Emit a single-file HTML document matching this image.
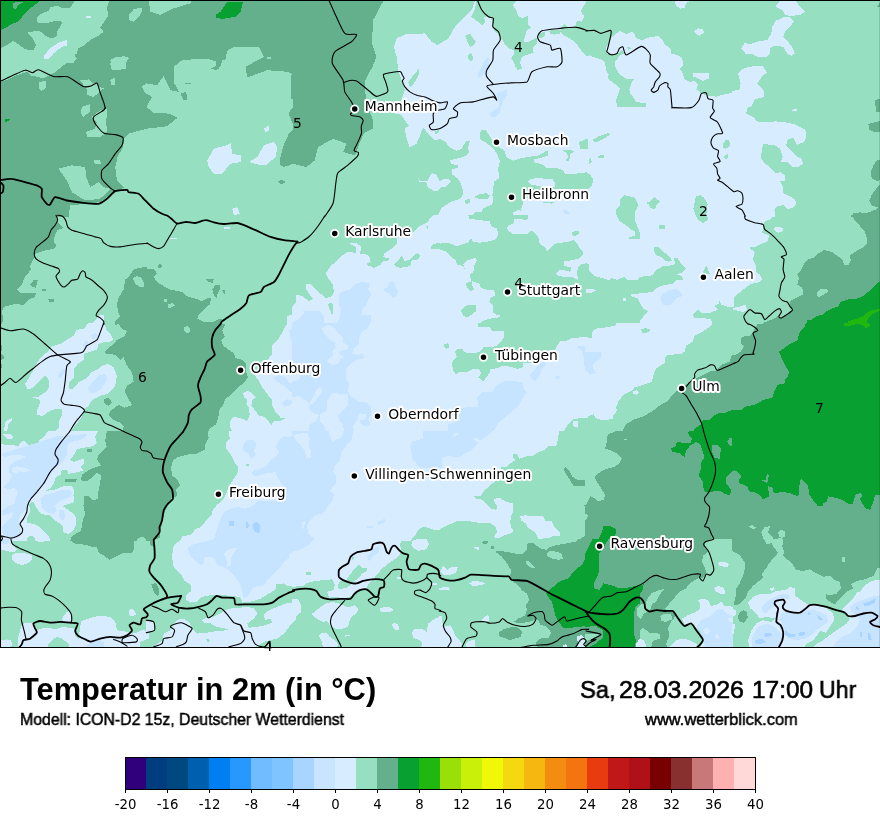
<!DOCTYPE html>
<html lang="de"><head><meta charset="utf-8"><title>Temperatur in 2m</title>
<style>
html,body{margin:0;padding:0;background:#fff;}
body{width:880px;height:830px;position:relative;overflow:hidden;font-family:"Liberation Sans",sans-serif;color:#000;}
#map{position:absolute;left:0;top:0;width:880px;height:648px;display:block;will-change:transform;overflow:visible;}
.t{position:absolute;white-space:nowrap;line-height:1;transform-origin:0 0;will-change:transform;}
#title{left:19.9px;top:673.9px;font-size:30.6px;font-weight:bold;transform:scaleX(1.008);}
#sub{left:20.4px;top:711.1px;font-size:16.4px;-webkit-text-stroke:0.5px #000;transform:scaleX(0.965);}
.dt{top:677.9px;font-size:24.4px;-webkit-text-stroke:0.6px #000;}
#url{left:645.4px;top:711px;font-size:16.5px;-webkit-text-stroke:0.5px #000;transform:scaleX(0.998);}
#leg{position:absolute;left:0;top:740px;width:880px;height:90px;display:block;will-change:transform;}
svg text{font-family:"DejaVu Sans","Liberation Sans",sans-serif;}
.city{font-size:13.88px;fill:#000;stroke:#fff;stroke-width:3.8px;paint-order:stroke fill;stroke-linejoin:round;}
.num{font-size:13.89px;fill:#000;text-anchor:middle;}
.lt{font-size:13.3px;fill:#000;text-anchor:middle;}
</style></head><body>

<svg id="map" width="880" height="648" viewBox="0 0 880 648" shape-rendering="crispEdges">
<defs><clipPath id="mc"><rect x="0" y="0" width="880" height="648"/></clipPath></defs>
<g clip-path="url(#mc)">
<rect x="0" y="0" width="880" height="648" fill="#96dfc0"/>
<polygon fill="#64b08c" points="0.0,0.0 294.7,0.0 294.7,75.2 287.3,71.8 267.3,70.2 247.2,77.5 245.6,66.8 263.9,56.8 258.9,46.8 233.9,46.8 227.2,50.8 225.5,59.5 213.8,60.8 207.2,58.5 182.1,60.1 173.7,66.8 173.7,81.9 178.8,91.9 170.4,90.2 163.7,76.2 157.0,85.2 147.0,83.5 143.7,91.9 152.0,96.9 146.3,106.9 153.7,112.9 168.7,113.6 177.7,117.6 167.1,126.3 147.0,128.6 128.6,133.6 124.3,138.7 123.0,147.0 117.6,157.0 115.3,167.1 116.9,180.4 124.3,187.8 115.3,191.1 100.2,202.1 70.2,205.5 68.5,217.2 0.0,217.2"/>
<polygon fill="#64b08c" points="295.7,107.2 291.5,108.8 288.7,113.0 290.3,118.0 292.7,123.0 295.7,124.7"/>
<polygon fill="#64b08c" points="295.7,127.7 291.5,130.6 288.7,133.9 286.5,138.9 284.0,143.9 282.0,151.4 280.3,158.1 279.8,164.8 283.2,166.8 289.0,165.6 295.7,162.3"/>
<polygon fill="#64b08c" points="277.3,181.1 282.3,179.8 285.7,182.1 281.3,184.4"/>
<polygon fill="#96dfc0" points="0.0,48.4 6.7,45.1 13.4,40.9 18.4,44.3 25.1,49.3 33.4,50.1 35.9,45.1 33.4,39.3 27.6,32.6 35.9,30.9 41.8,31.7 45.1,35.9 51.8,38.4 56.8,35.9 57.6,30.9 61.0,25.1 62.6,21.7 55.1,20.9 45.1,23.4 37.6,22.6 36.8,17.5 41.8,13.4 48.4,10.9 50.1,7.5 56.8,5.8 63.5,8.4 70.2,7.5 74.3,1.7 75.2,0.0 109.4,0.0 106.9,8.4 108.6,15.0 104.4,21.7 100.2,27.6 103.6,31.7 98.6,35.9 90.2,40.1 83.5,45.9 78.5,48.4 76.8,53.5 74.3,55.1 76.8,58.5 73.5,62.6 66.0,63.5 58.5,69.3 53.5,73.5 43.4,78.5 38.4,76.8 31.7,76.0 26.7,71.8 16.7,75.2 6.7,80.2 0.0,81.9"/>
<polygon fill="#d8ecff" points="44.3,55.1 50.1,48.4 58.5,42.6 66.8,40.1 66.8,45.9 61.8,46.8 53.5,53.5 48.4,59.3 44.3,58.5"/>
<polygon fill="#d8ecff" points="86.0,15.9 91.0,16.2 91.0,18.4 86.0,18.4"/>
<polygon fill="#96dfc0" points="110.3,63.5 113.6,58.5 123.6,56.0 128.6,58.5 125.3,62.6 126.1,68.5 116.9,70.2 111.1,69.3"/>
<polygon fill="#96dfc0" points="39.3,82.7 45.9,81.0 45.9,86.9 42.6,90.2 39.3,88.5"/>
<polygon fill="#96dfc0" points="81.9,80.2 88.5,79.4 93.6,83.5 86.9,86.9 83.5,86.0"/>
<polygon fill="#96dfc0" points="86.9,88.5 96.9,86.0 103.6,88.5 100.2,91.0 93.6,91.9 91.0,96.1 86.9,93.6"/>
<polygon fill="#96dfc0" points="110.3,80.2 114.4,77.7 115.3,83.5 111.1,85.2"/>
<polygon fill="#96dfc0" points="129.5,15.0 133.6,10.0 140.3,7.5 142.0,11.7 137.0,16.7 132.0,21.7 129.5,20.0"/>
<polygon fill="#96dfc0" points="142.0,86.9 147.3,81.9 147.3,90.2 143.7,90.2"/>
<polygon fill="#08a030" points="0.0,30.9 10.0,25.1 19.2,20.9 23.4,15.0 30.1,8.4 40.1,0.8 40.1,0.0 0.0,0.0"/>
<polygon fill="#64b08c" points="12.5,3.3 18.4,1.7 25.1,1.7 18.4,5.0 15.9,9.2 13.4,8.4"/>
<polygon fill="#96dfc0" points="148.7,0.0 150.4,11.7 160.4,15.0 173.7,8.4 190.4,3.3 192.1,0.0"/>
<polygon fill="#96dfc0" points="128.6,15.0 133.6,9.4 142.0,7.4 140.3,15.0 133.6,21.7 128.6,20.0"/>
<polygon fill="#08a030" points="215.5,15.0 220.5,11.7 227.2,1.7 243.2,1.7 240.6,11.7 235.5,16.7 222.2,19.0 215.5,17.4"/>
<polygon fill="#96dfc0" points="110.3,60.1 116.9,56.8 128.6,56.8 125.3,65.2 120.3,70.2 111.9,69.5"/>
<polygon fill="#96dfc0" points="110.3,80.2 114.3,78.5 115.3,85.2 111.3,85.2"/>
<polygon fill="#96dfc0" points="80.2,80.2 96.9,83.5 100.2,91.9 93.6,96.9 87.5,95.2 86.2,87.5"/>
<polygon fill="#96dfc0" points="81.9,106.9 90.2,104.2 89.5,111.9 83.5,116.9 80.9,113.6"/>
<polygon fill="#96dfc0" points="91.9,116.9 100.2,110.3 107.6,108.6 106.2,120.3 106.9,132.0 100.2,137.0 86.9,137.0 86.2,132.0 95.2,128.6 96.9,122.0"/>
<polygon fill="#96dfc0" points="39.4,81.9 45.1,80.9 46.1,87.5 41.8,90.9 38.8,88.5"/>
<polygon fill="#96dfc0" points="58.5,168.7 71.8,165.4 85.2,167.1 86.2,177.1 90.2,187.1 98.6,182.1 103.6,187.1 110.3,188.8 100.2,198.8 85.2,200.5 71.8,192.1 66.8,180.4"/>
<polygon fill="#96dfc0" points="93.6,160.4 100.2,159.7 100.9,164.4 95.2,164.4"/>
<polygon fill="#08a030" points="5.0,119.6 10.0,118.6 9.4,120.9 5.3,122.0"/>
<polygon fill="#d8ecff" points="207.2,160.4 213.8,148.7 227.2,145.3 230.5,143.0 232.2,153.7 240.6,155.4 240.6,162.0 230.5,163.7 222.2,173.7 213.8,173.7 208.8,167.1"/>
<polygon fill="#d8ecff" points="248.9,162.0 257.3,157.0 263.9,145.3 274.0,142.0 277.3,147.0 275.6,157.0 265.6,165.4 257.3,164.4"/>
<polygon fill="#d8ecff" points="263.9,128.6 269.0,125.3 269.0,130.3 265.6,132.0"/>
<polygon fill="#d8ecff" points="232.2,208.8 237.2,207.2 239.9,213.8 233.9,215.5"/>
<polygon fill="#64b08c" points="293.0,0.0 383.9,0.0 373.2,20.0 371.9,43.4 376.5,56.8 372.5,66.8 365.2,80.2 365.2,92.2 367.2,105.2 372.5,118.6 373.2,128.6 363.8,133.0 359.2,144.3 354.8,155.4 343.1,152.0 346.5,143.7 333.1,138.7 318.1,147.0 314.7,160.4 306.4,167.1 293.0,163.7"/>
<polygon fill="#d8ecff" points="475.1,0.0 471.8,10.0 465.1,16.7 455.0,26.7 448.4,38.4 437.3,45.1 431.7,41.8 425.0,33.4 404.9,34.4 396.6,38.4 393.9,46.8 396.6,56.8 398.2,70.2 401.6,80.2 404.9,90.2 401.6,100.2 393.2,107.6 393.2,112.9 393.0,113.0 401.4,114.7 404.7,120.5 408.9,125.5 404.7,128.9 406.4,138.1 409.7,147.3 416.4,143.9 419.7,136.4 423.1,127.2 428.9,134.7 434.8,140.6 439.8,138.9 444.8,141.4 449.8,147.3 456.5,150.6 461.5,148.9 465.7,141.4 469.8,140.6 468.2,147.3 469.0,153.1 464.8,156.4 454.8,159.0 449.8,160.6 451.5,164.0 458.2,165.6 457.3,168.1 452.3,169.0 451.5,174.0 457.3,178.2 460.7,183.2 463.2,190.7 462.3,196.5 459.0,199.0 449.8,202.4 441.4,208.2 436.4,217.4 820.0,217.5 820.0,107.0 586.3,107.0 586.3,0.0"/>
<polygon fill="#d8ecff" points="418.1,177.3 418.9,181.5 426.4,182.3 428.1,187.4 434.8,191.5 438.9,190.2 441.4,187.4 446.5,186.5 450.6,181.5 448.1,179.0 443.1,179.5 439.8,181.2 436.4,174.8 432.3,173.2 429.4,176.8 427.2,181.2 419.7,180.7"/>
<polygon fill="#96dfc0" points="475.9,-0.8 518.5,-0.8 512.7,5.0 516.0,10.0 518.5,15.9 521.9,18.4 527.7,15.9 528.5,25.1 531.0,27.6 526.9,30.1 525.2,35.9 523.5,41.8 528.5,41.8 533.6,39.3 536.9,37.6 536.9,43.4 532.7,47.6 533.6,52.6 528.5,54.3 521.9,56.8 520.2,62.6 521.9,68.5 517.7,70.2 515.2,66.0 513.5,61.8 511.0,58.5 514.3,53.5 513.5,50.1 508.5,48.4 504.3,44.3 502.6,40.1 497.6,33.4 494.3,30.9 493.5,26.7 491.8,20.0 488.4,15.9 484.3,17.5 485.1,22.6 481.8,25.1 475.9,20.0 470.9,16.7 473.4,12.5 475.1,9.2 475.9,3.3"/>
<polygon fill="#96dfc0" points="408.3,81.9 413.3,75.2 419.3,68.5 419.3,73.5 415.0,81.9 409.9,87.5"/>
<polygon fill="#96dfc0" points="465.1,35.9 470.1,33.4 472.6,37.6 475.9,41.8 473.4,45.1 470.1,46.8 467.6,41.8"/>
<polygon fill="#96dfc0" points="468.4,55.1 470.9,52.6 473.4,58.5 471.7,61.5 468.4,59.3"/>
<polygon fill="#96dfc0" points="578.7,142.0 587.7,138.7 587.7,148.7 580.3,148.7"/>
<polygon fill="#96dfc0" points="480.7,130.6 485.7,129.7 489.9,136.4 493.2,141.4 499.9,147.3 504.9,151.4 506.6,157.3 513.3,160.6 521.6,158.1 531.7,156.4 528.4,156.4 535.9,156.4 541.7,153.9 546.7,150.6 548.4,152.3 547.6,155.6 540.0,158.1 535.0,159.8 534.2,162.3 541.7,164.0 546.7,168.1 557.6,168.5 562.6,169.8 565.1,174.0 570.1,174.0 576.8,173.5 586.8,172.3 590.2,174.8 593.5,179.8 591.8,185.7 588.5,189.0 555.9,189.4 536.7,191.5 523.3,201.6 522.5,204.9 520.0,211.6 522.5,208.2 513.3,212.4 513.3,217.4 469.8,217.4 476.5,211.6 481.5,212.4 483.2,208.2 491.6,204.9 493.2,201.6 492.4,194.9 493.2,188.2 494.1,181.5 499.1,178.2 498.2,168.1 499.9,161.5 497.4,154.8 493.2,148.1 486.6,143.1 479.9,138.9"/>
<polygon fill="#d8ecff" points="527.5,181.5 530.0,179.0 536.7,178.2 552.6,179.0 555.1,183.2 555.1,186.5 541.7,186.5 531.7,184.8"/>
<polygon fill="#d8ecff" points="534.2,159.0 540.3,158.1 543.4,163.1 535.0,163.1"/>
<polygon fill="#96dfc0" points="542.6,201.6 555.9,201.6 551.7,203.6 543.4,202.9"/>
<polygon fill="#96dfc0" points="474.9,196.5 479.9,194.0 486.6,193.2 489.9,195.7 488.2,199.0 481.5,199.0 475.7,198.2"/>
<polygon fill="#96dfc0" points="465.2,199.9 469.8,199.0 469.8,203.2 465.7,204.1"/>
<polygon fill="#96dfc0" points="434.8,131.4 439.8,129.7 438.1,133.1 435.6,134.4"/>
<polygon fill="#c6e3ff" points="489.9,113.0 493.2,110.5 497.4,108.0 500.8,108.0 499.9,112.2 494.9,117.2 490.7,116.4"/>
<polygon fill="#c6e3ff" points="477.6,73.5 480.9,68.5 484.3,61.8 486.8,57.6 490.1,57.6 488.4,65.2 485.1,71.8 480.1,77.7 477.6,76.0"/>
<polygon fill="#c6e3ff" points="496.8,93.6 502.6,91.0 506.8,89.4 506.8,95.2 503.5,100.2 502.6,105.2 499.3,107.8 498.5,100.2"/>
<polygon fill="#96dfc0" points="579.3,144.8 582.6,141.4 587.7,138.9 587.7,143.9 586.0,147.3 581.0,148.1"/>
<polygon fill="#96dfc0" points="592.7,139.7 598.5,136.4 608.5,133.1 610.2,134.7 603.5,138.9 598.5,141.4 594.3,142.2"/>
<polygon fill="#96dfc0" points="562.6,150.6 570.1,149.8 573.8,151.4 570.1,154.8 569.3,160.6 565.1,161.5 568.4,156.4 566.8,153.1"/>
<polygon fill="#96dfc0" points="597.7,155.6 604.4,155.3 604.4,157.6 598.5,157.6"/>
<polygon fill="#96dfc0" points="588.5,159.8 591.0,158.1 591.8,162.3 589.3,164.0"/>
<polygon fill="#96dfc0" points="620.2,199.0 624.4,195.2 634.4,197.4 638.6,204.9 635.3,211.6 634.4,217.4 615.2,217.4 616.1,209.9 620.2,204.9"/>
<polygon fill="#96dfc0" points="645.3,202.9 650.3,201.6 654.5,197.4 660.3,201.6 656.2,204.9 655.3,209.1 650.3,208.2 648.6,204.1"/>
<polygon fill="#c6e3ff" points="563.4,209.9 567.6,210.7 570.1,213.6 563.8,213.6"/>
<polygon fill="#d8ecff" points="586.0,53.5 592.7,56.8 602.7,60.1 605.2,62.6 606.0,70.2 608.6,74.3 607.7,78.5 614.4,83.5 620.2,88.5 617.7,95.2 616.1,100.2 616.9,105.2 616.9,109.4 585.2,109.4 585.2,53.5"/>
<polygon fill="#d8ecff" points="606.0,48.4 611.1,38.4 615.2,34.2 620.2,30.9 626.1,34.2 631.9,31.7 634.4,33.4 636.1,38.4 642.8,40.1 648.6,37.6 657.8,35.9 662.0,39.3 664.5,44.3 670.4,48.4 671.2,53.5 679.6,56.0 682.9,60.1 682.9,66.0 679.6,68.5 682.9,73.5 684.6,79.4 690.4,81.9 694.6,81.0 697.9,84.4 696.3,89.4 701.3,93.6 709.6,96.1 716.3,96.6 724.7,94.4 733.3,92.7 733.3,109.4 646.1,109.4 646.1,103.6 636.1,101.9 633.6,97.7 630.3,93.6 629.4,89.4 631.1,83.5 634.4,78.5 626.1,78.5 621.9,76.0 617.7,71.8 615.2,66.0 615.2,61.8 619.4,56.0 624.4,53.5 621.9,50.1 616.1,54.3 607.7,54.3"/>
<polygon fill="#d8ecff" points="674.5,0.8 689.6,0.8 686.2,3.3 684.6,7.5 680.4,8.7 676.2,5.8"/>
<polygon fill="#d8ecff" points="693.8,31.7 697.9,28.4 702.9,29.2 703.8,32.6 699.6,35.9 696.3,34.2"/>
<polygon fill="#d8ecff" points="692.9,72.7 708.8,72.7 708.8,78.5 702.9,81.0 696.3,77.7 692.9,76.8"/>
<polygon fill="#96dfc0" points="626.9,47.6 629.4,46.4 630.8,48.4 628.6,49.8"/>
<polygon fill="#d8ecff" points="779.8,0.8 795.6,0.8 799.8,6.7 804.8,11.7 799.8,15.0 790.6,15.9 784.8,15.0 782.3,10.0 775.6,6.7"/>
<polygon fill="#d8ecff" points="784.8,16.7 789.8,17.5 794.0,21.7 789.8,26.7 784.8,31.7 783.1,36.8 788.1,41.8 793.1,48.4 794.8,53.5 791.5,56.0 787.3,53.5 783.1,46.8 777.3,45.9 770.6,46.8 769.8,53.5 766.4,56.8 758.1,56.8 753.0,54.3 745.5,53.5 741.4,48.4 744.7,42.6 749.7,44.3 758.1,41.4 767.2,40.1 771.4,33.4 772.3,26.7 775.6,20.9"/>
<polygon fill="#d8ecff" points="732.2,91.0 739.7,89.4 740.5,83.5 738.0,73.5 742.2,69.3 748.9,66.8 762.2,65.5 767.2,72.7 762.2,76.0 757.2,83.5 763.9,91.0 763.9,96.9 754.7,99.4 749.7,109.4 732.2,109.4"/>
<polygon fill="#64b08c" points="876.7,6.7 880.3,2.5 880.3,6.7"/>
<polygon fill="#64b08c" points="875.8,100.2 880.3,100.2 880.3,109.4 875.8,109.4"/>
<polygon fill="#96dfc0" points="747.7,107.2 746.0,113.8 753.6,117.2 756.9,121.4 766.9,122.2 775.3,121.4 784.5,122.2 793.6,123.9 800.3,127.2 805.3,129.7 806.2,137.2 803.7,142.2 797.0,144.8 793.6,138.1 787.8,138.9 786.1,145.6 792.0,151.4 797.0,156.4 802.0,159.0 802.8,164.0 798.7,166.5 792.0,166.5 787.8,162.3 781.1,161.5 782.8,156.4 780.3,148.9 775.3,145.6 763.6,143.9 761.9,148.1 761.1,158.1 764.4,163.1 770.3,167.3 775.3,173.2 780.3,172.3 784.5,174.8 784.5,180.7 780.3,181.5 782.8,186.5 782.8,193.2 790.3,196.5 795.3,199.9 796.2,204.1 792.0,208.2 787.0,209.1 783.6,204.9 776.9,206.6 774.4,209.9 775.3,217.4 825.4,217.4 825.4,107.2"/>
<polygon fill="#96dfc0" points="722.6,143.9 726.0,139.7 729.3,139.7 729.8,145.6 726.0,148.9 723.1,148.1"/>
<polygon fill="#96dfc0" points="724.3,155.6 727.7,154.4 728.8,157.3 726.0,159.0 724.0,157.8"/>
<polygon fill="#96dfc0" points="693.4,208.2 695.9,196.5 700.1,194.9 703.8,197.4 707.6,204.1 705.9,217.4 695.9,217.4"/>
<polygon fill="#d8ecff" points="792.0,109.7 797.0,108.8 797.0,110.5 792.8,111.0"/>
<polygon fill="#64b08c" points="875.0,100.2 880.7,98.6 880.7,111.9 876.0,111.9"/>
<polygon fill="#64b08c" points="868.3,123.9 875.0,122.2 881.7,120.5 881.7,132.2 875.0,132.2 869.2,129.7"/>
<polygon fill="#64b08c" points="881.7,159.0 876.7,160.6 873.3,165.6 870.8,172.3 871.7,178.2 876.7,180.7 881.7,180.2"/>
<polygon fill="#64b08c" points="881.7,183.2 876.7,188.2 871.7,194.9 869.2,200.7 871.7,205.7 878.3,207.4 875.0,209.9 866.6,213.2 860.0,212.4 853.3,213.2 850.8,217.4 881.7,217.4"/>
<polygon fill="#64b08c" points="0.0,215.2 56.0,215.2 56.8,221.0 59.3,223.5 63.5,227.7 57.6,230.2 55.1,234.4 53.5,242.7 56.8,245.2 53.5,248.6 42.6,251.1 35.9,253.6 33.4,259.4 30.1,266.1 30.9,269.5 25.1,277.0 21.7,284.5 17.5,289.5 20.0,292.8 35.9,293.2 35.1,297.0 30.1,298.7 23.4,305.4 16.7,303.7 10.0,305.4 5.0,306.2 1.7,311.2 3.3,319.6 1.7,324.1 0.0,324.1"/>
<polygon fill="#64b08c" points="30.1,284.5 34.2,279.5 37.6,280.3 35.9,287.8 32.6,287.0"/>
<polygon fill="#64b08c" points="41.8,289.2 45.9,289.2 45.9,290.8 41.8,290.8"/>
<polygon fill="#64b08c" points="48.4,299.5 53.5,298.7 53.8,301.5 49.3,302.0"/>
<polygon fill="#64b08c" points="115.3,325.4 115.3,321.2 120.3,316.2 118.6,312.9 116.9,304.5 118.6,297.9 123.6,289.5 125.3,279.5 129.5,276.1 133.6,269.5 138.7,267.8 147.3,267.0 147.0,268.6 154.5,269.5 157.0,273.6 153.7,277.0 157.0,282.0 163.7,286.2 170.4,289.5 182.1,292.0 187.1,296.2 195.4,298.7 202.1,301.2 208.0,297.9 211.3,298.7 209.6,304.5 203.8,309.6 198.8,314.6 197.1,318.7 203.8,322.1 213.0,322.1 217.2,319.6 222.2,318.7 220.5,324.6 225.5,324.0 222.2,330.7 224.7,336.5 221.3,339.9 223.0,345.7 228.9,349.9 233.9,353.2 235.5,358.2 242.2,359.9 246.4,364.1 245.6,369.9 248.1,377.5 243.9,382.5 237.2,388.3 232.2,393.3 224.7,400.0 223.0,405.9 219.7,409.2 218.8,415.0 216.3,424.2 208.8,429.2 208.0,433.4 122.8,433.4 123.6,425.9 120.3,422.6 113.6,420.1 108.6,415.0 110.3,410.9 118.6,405.0 124.5,407.5 132.0,405.0 128.6,399.2 124.5,390.8 127.0,385.8 133.6,381.6 132.0,372.4 127.0,365.8 123.6,357.4 120.3,359.9 115.3,354.9 104.4,353.2 106.9,349.1 113.6,344.0 116.9,339.9 124.5,336.5 127.0,330.7 122.0,329.0 118.6,324.0"/>
<polygon fill="#96dfc0" points="132.8,278.6 136.2,276.1 141.2,277.0 143.7,282.0 144.5,287.0 140.3,287.5 135.3,283.7"/>
<polygon fill="#64b08c" points="157.9,265.3 160.4,263.6 162.0,266.1 160.4,268.6 158.4,267.8"/>
<polygon fill="#64b08c" points="205.5,279.5 213.8,279.1 213.0,282.8 208.8,282.0"/>
<polygon fill="#64b08c" points="212.2,289.5 215.5,284.5 219.7,284.5 219.7,289.5 217.2,294.5 216.3,298.7 213.8,294.5"/>
<polygon fill="#64b08c" points="222.2,290.3 224.7,290.3 224.7,294.5"/>
<polygon fill="#96dfc0" points="163.7,299.5 167.0,299.2 166.7,302.0 164.0,302.0"/>
<polygon fill="#96dfc0" points="167.9,304.5 172.1,302.9 175.4,305.4 170.4,307.9 167.9,307.5"/>
<polygon fill="#96dfc0" points="184.1,327.3 187.1,326.0 190.1,328.2 189.6,332.0 186.8,333.7 184.6,331.5"/>
<polygon fill="#64b08c" points="103.6,399.2 108.6,397.5 111.9,402.5 108.6,405.9 104.4,403.4"/>
<polygon fill="#64b08c" points="0.0,344.9 2.0,345.7 1.7,350.7 0.0,351.6"/>
<polygon fill="#64b08c" points="0.0,354.1 3.3,354.9 4.2,358.2 0.8,359.9 0.0,359.1"/>
<polygon fill="#64b08c" points="0.0,363.3 2.0,364.1 1.7,368.3 0.0,369.1"/>
<polygon fill="#d8ecff" points="90.2,325.4 96.1,319.6 98.6,315.4 103.6,315.4 104.4,325.4"/>
<polygon fill="#d8ecff" points="287.3,316.2 290.7,314.6 294.3,314.6 294.3,325.4 287.3,325.4"/>
<polygon fill="#d8ecff" points="223.8,226.9 229.7,226.9 229.7,228.9 223.8,228.9"/>
<polygon fill="#d8ecff" points="169.6,237.7 177.1,237.7 177.1,238.9 169.6,238.9"/>
<polygon fill="#d8ecff" points="88.5,323.2 83.5,329.0 76.8,329.8 73.5,335.7 66.8,339.9 60.1,344.0 51.8,346.6 47.6,351.6 41.8,356.6 37.6,361.6 35.9,365.8 29.2,377.5 25.1,384.1 27.6,389.2 32.6,388.3 38.4,382.5 45.1,375.8 48.4,379.1 49.3,387.5 45.1,392.5 38.4,396.7 32.6,397.5 40.1,400.0 39.3,405.9 36.8,410.9 37.6,415.0 42.6,415.9 48.4,411.7 56.8,408.4 61.8,409.2 62.6,414.2 59.3,420.9 58.5,427.6 54.3,433.4 69.3,433.4 73.5,427.6 80.2,419.2 83.5,413.4 84.4,409.2 88.5,405.9 91.0,400.8 100.2,395.8 108.6,393.3 115.3,385.8 116.9,375.8 113.6,367.4 108.6,364.1 103.6,364.9 96.9,369.9 91.0,372.4 86.9,378.3 78.5,382.5 73.5,388.3 69.3,389.2 68.5,382.5 73.5,377.5 73.5,369.1 78.5,363.3 83.5,359.9 83.5,354.1 90.2,351.6 96.9,349.9 98.6,344.0 103.6,342.4 110.3,341.5 113.6,339.9 110.3,334.0 106.9,330.7 104.4,323.2"/>
<polygon fill="#c6e3ff" points="91.0,334.9 95.2,333.2 97.7,334.0 96.1,338.2 92.7,339.0"/>
<polygon fill="#c6e3ff" points="82.7,345.7 86.0,340.7 88.5,340.7 87.7,344.9 84.4,347.4"/>
<polygon fill="#c6e3ff" points="57.6,375.8 61.8,369.9 65.2,368.3 64.3,373.3 60.1,378.3"/>
<polygon fill="#c6e3ff" points="87.7,388.3 93.6,380.8 99.4,375.0 105.2,374.1 106.9,378.3 104.4,384.1 100.2,389.2 95.2,392.5 90.2,392.5"/>
<polygon fill="#d8ecff" points="3.3,433.4 5.8,420.9 11.7,418.4 11.7,420.9 8.4,424.2 7.5,429.2 6.7,433.4"/>
<polygon fill="#d8ecff" points="295.7,323.2 287.3,323.2 283.2,330.7 279.0,338.2 272.3,345.7 271.5,354.9 263.9,364.1 253.9,374.1 258.9,380.8 262.3,387.5 267.3,394.2 271.5,399.2 272.3,405.9 275.6,412.5 280.6,417.6 286.5,417.6 280.6,420.9 274.0,420.9 271.5,425.1 268.1,420.9 263.9,416.7 258.9,415.9 255.6,410.9 251.4,405.9 252.2,400.0 255.6,397.5 252.2,393.3 247.2,390.8 243.1,393.3 243.9,397.5 247.2,399.2 246.4,404.2 248.9,407.5 249.7,415.0 247.2,420.9 240.6,418.4 233.0,416.7 229.7,422.6 229.7,425.9 233.0,433.4 295.7,433.4"/>
<polygon fill="#c6e3ff" points="289.0,330.7 295.7,327.3 295.7,340.7 290.7,339.9"/>
<polygon fill="#c6e3ff" points="273.1,377.5 279.0,375.0 285.7,377.5 289.0,382.5 295.7,384.1 295.7,394.2 289.0,390.8 284.0,385.8 277.3,381.6"/>
<polygon fill="#c6e3ff" points="282.3,402.5 287.3,399.2 292.3,400.8 290.7,405.0 284.0,406.7"/>
<polygon fill="#d8ecff" points="292.0,215.0 588.0,215.0 588.0,433.0 292.0,433.0"/>
<polygon fill="#96dfc0" points="292.2,215.2 433.3,215.2 426.6,222.7 420.0,226.0 413.3,231.9 406.6,235.2 396.6,238.6 396.6,243.6 391.6,248.6 384.0,253.6 383.2,256.9 389.1,258.6 388.2,261.1 383.2,261.1 379.9,265.3 374.0,267.8 367.3,265.3 367.3,263.6 370.7,261.9 369.8,256.9 364.8,253.6 359.8,253.6 361.5,246.9 357.3,243.6 349.8,242.7 350.6,244.4 355.6,246.9 355.6,252.8 348.1,251.9 342.3,255.3 337.3,260.3 330.6,266.1 325.6,273.6 328.9,279.5 333.1,284.5 333.9,292.8 330.6,297.0 325.6,297.9 320.6,293.7 314.7,287.8 310.5,283.7 306.4,284.5 306.4,289.5 309.7,294.5 313.0,298.7 308.9,301.2 302.2,296.2 296.3,294.5 295.5,302.9 292.2,307.0"/>
<polygon fill="#96dfc0" points="394.1,264.4 398.2,260.3 401.6,256.1 404.9,261.1 409.9,259.4 414.1,255.3 417.5,253.1 420.3,256.1 418.3,259.4 411.6,260.3 410.8,265.3 406.6,267.0 399.9,267.8 394.9,266.1"/>
<polygon fill="#96dfc0" points="430.8,246.1 435.0,243.6 440.3,242.7 440.3,248.6 431.7,249.4"/>
<polygon fill="#96dfc0" points="328.1,303.7 332.3,302.9 333.1,308.7 332.3,315.4 328.9,307.9"/>
<polygon fill="#96dfc0" points="425.8,226.0 428.3,226.0 427.5,229.4"/>
<polygon fill="#c6e3ff" points="338.9,294.5 343.1,291.2 349.8,289.5 357.3,282.8 364.8,282.0 369.8,283.7 368.2,289.5 371.5,294.5 368.2,299.5 366.5,304.5 361.5,309.6 361.5,314.6 371.5,314.6 370.7,321.2 368.2,325.4 335.6,325.4 338.9,319.6 341.4,309.6 338.9,304.5"/>
<polygon fill="#c6e3ff" points="384.0,289.5 388.2,286.2 389.1,282.0 394.1,282.0 395.7,287.8 398.2,291.2 396.6,296.2 392.4,297.9 389.9,293.7 384.9,292.0"/>
<polygon fill="#c6e3ff" points="292.2,322.9 298.0,319.6 304.7,312.9 303.0,310.4 311.4,311.2 319.7,311.2 323.9,316.2 324.7,325.4 292.2,325.4"/>
<polygon fill="#96dfc0" points="468.4,215.2 469.2,218.5 479.3,220.2 489.3,221.0 491.8,226.9 496.8,228.5 498.5,235.2 495.1,239.4 491.0,241.1 479.3,242.7 473.4,241.9 470.9,238.6 467.6,242.7 456.7,246.1 448.4,242.7 440.0,243.6 440.0,249.4 446.7,251.9 450.0,256.1 455.9,260.3 456.7,264.4 462.6,266.1 465.1,269.5 463.4,264.4 467.6,260.3 475.1,257.8 476.8,260.3 474.2,266.1 473.4,272.0 470.1,274.5 470.9,280.3 474.2,282.0 479.3,283.7 480.9,287.8 485.9,289.5 494.3,290.3 495.1,295.4 490.1,297.9 489.3,302.0 492.6,305.4 492.6,312.1 496.0,314.6 500.1,314.6 500.1,317.1 490.1,318.7 481.8,321.2 478.4,325.4 588.7,325.4 588.7,264.4 582.0,263.6 577.8,267.8 577.0,274.5 578.7,280.3 572.0,277.0 563.6,277.0 556.9,275.3 556.1,273.6 560.3,269.5 564.5,270.3 570.3,272.0 571.1,267.0 564.5,266.1 563.6,261.1 572.0,260.3 578.7,258.6 582.8,254.4 582.8,251.1 579.5,247.7 577.0,243.6 573.6,240.2 567.0,241.9 555.3,243.6 550.3,247.7 547.8,251.1 544.4,246.9 538.6,242.7 538.6,237.7 535.2,233.5 531.0,230.2 527.7,233.5 520.2,233.5 513.5,234.4 508.5,231.0 506.8,227.7 509.3,225.2 513.5,223.5 514.3,219.3 520.2,218.5 525.2,220.2 527.7,219.3 527.7,215.2"/>
<polygon fill="#96dfc0" points="572.0,232.7 574.5,231.0 578.7,231.4 578.7,234.0 574.5,236.0 572.3,235.2"/>
<polygon fill="#96dfc0" points="465.1,283.7 471.7,281.2 472.6,286.2 474.2,289.5 470.9,291.2 467.6,287.8"/>
<polygon fill="#96dfc0" points="460.9,311.2 465.1,306.2 470.9,304.5 475.9,305.4 475.9,311.2 471.7,314.6 468.4,317.1 463.4,316.2"/>
<polygon fill="#c6e3ff" points="292.2,323.2 370.7,323.2 366.5,329.0 361.5,331.5 359.0,339.0 359.0,344.0 353.1,349.1 352.3,353.2 357.3,354.9 363.2,354.1 364.0,358.2 356.5,359.9 349.8,364.1 345.6,369.9 345.6,379.1 349.0,382.5 348.1,390.8 349.8,395.8 355.6,399.2 359.0,401.7 366.5,402.5 370.7,405.9 371.5,414.2 368.2,419.2 370.7,424.2 366.5,426.7 361.5,424.2 359.8,420.1 365.7,419.2 366.5,414.2 359.8,413.4 356.5,420.9 353.1,425.9 354.0,433.4 292.2,433.4"/>
<polygon fill="#d8ecff" points="321.4,328.2 328.9,324.8 335.6,329.0 338.1,333.2 342.3,336.5 343.1,342.4 348.1,345.7 347.3,349.9 341.4,350.7 338.1,353.2 344.0,356.6 339.8,359.9 338.1,364.1 331.4,364.9 327.2,361.6 328.9,358.2 333.1,355.7 332.3,351.6 335.6,347.4 334.8,342.4 328.9,339.0 324.7,334.0"/>
<polygon fill="#d8ecff" points="292.2,362.4 299.7,364.1 301.4,374.1 298.8,380.0 292.2,381.6"/>
<polygon fill="#d8ecff" points="308.9,403.4 313.0,397.5 316.4,390.0 320.6,386.6 322.2,390.8 318.1,397.5 314.7,401.7 309.7,405.9"/>
<polygon fill="#d8ecff" points="319.7,414.2 326.4,410.9 327.2,400.8 332.3,392.5 341.4,394.2 348.1,394.2 348.1,405.9 343.1,410.9 338.1,415.0 338.9,420.9 343.1,424.2 344.0,433.4 326.4,433.4 324.7,425.9 319.7,420.9"/>
<polygon fill="#d8ecff" points="292.2,397.5 298.0,395.8 303.0,398.3 308.9,403.4 309.7,410.9 314.7,413.4 318.9,415.0 316.4,420.9 309.7,424.2 308.0,433.4 292.2,433.4"/>
<polygon fill="#96dfc0" points="477.6,323.2 478.4,326.5 490.1,327.3 491.8,330.7 504.3,330.7 504.3,336.5 501.0,341.5 496.8,345.7 490.1,347.4 483.4,347.4 480.1,351.6 474.2,353.2 464.2,352.4 462.6,349.1 457.5,349.1 455.0,351.6 456.7,356.6 453.4,359.9 451.7,363.3 453.4,370.8 455.9,374.1 460.0,371.6 467.6,371.6 472.6,369.1 479.3,369.1 480.9,373.3 478.4,377.5 483.4,381.6 485.9,377.5 490.1,372.4 490.1,369.1 496.8,368.3 502.6,365.8 510.2,366.6 517.7,369.1 522.7,367.4 523.5,363.3 533.6,362.4 546.9,355.7 555.3,349.1 556.9,345.7 560.3,341.5 567.0,340.7 572.0,338.2 580.3,337.4 588.7,336.5 588.7,323.2"/>
<polygon fill="#96dfc0" points="444.2,344.0 448.4,343.2 449.2,347.4 446.7,348.7 444.2,346.6"/>
<polygon fill="#96dfc0" points="562.0,433.4 567.0,425.9 570.3,422.6 572.8,419.2 578.7,418.4 588.7,417.6 588.7,433.4"/>
<polygon fill="#d8ecff" points="572.8,420.9 577.8,420.6 577.8,427.6 573.6,426.7"/>
<polygon fill="#c6e3ff" points="476.8,397.5 481.8,392.5 492.6,391.7 496.0,385.8 502.6,381.6 513.5,380.8 521.9,382.5 523.5,388.3 526.9,392.5 522.7,397.5 518.5,405.9 511.8,411.7 506.0,416.7 498.5,422.6 495.1,428.4 493.5,433.4 447.5,433.4 448.4,424.2 460.0,420.9 458.4,409.2 468.4,406.7 478.4,406.7 477.6,400.8"/>
<polygon fill="#c6e3ff" points="530.2,374.1 535.2,369.1 538.6,364.1 543.6,361.6 546.9,364.1 541.9,368.3 540.2,374.1 535.2,381.6 531.0,378.3"/>
<polygon fill="#c6e3ff" points="555.3,376.6 560.3,376.1 560.6,378.3 555.6,378.8"/>
<polygon fill="#c6e3ff" points="577.0,346.6 583.7,345.7 588.7,350.7 588.7,369.1 584.5,365.8 583.7,357.4 582.0,350.7"/>
<polygon fill="#d8ecff" points="585.0,215.0 734.0,215.0 734.0,325.0 585.0,325.0"/>
<polygon fill="#96dfc0" points="616.9,215.2 619.4,221.0 626.1,225.2 631.1,229.4 635.3,231.9 635.3,236.0 629.4,236.9 629.1,238.6 639.5,239.1 639.5,231.9 637.0,225.2 634.4,220.2 635.3,215.2"/>
<polygon fill="#96dfc0" points="659.2,225.2 664.5,225.2 664.9,229.0 659.5,228.5"/>
<polygon fill="#96dfc0" points="695.4,215.2 697.9,219.3 702.9,223.5 708.0,219.3 707.1,215.2"/>
<polygon fill="#96dfc0" points="585.2,262.8 588.5,264.4 589.3,270.3 594.4,276.1 604.4,278.6 608.6,280.3 611.9,278.1 616.9,279.8 624.4,277.0 627.8,280.3 637.8,280.3 639.5,277.0 652.0,275.3 656.2,270.3 662.8,266.1 672.9,265.3 675.4,262.8 673.7,258.6 677.0,257.8 681.2,263.6 686.2,268.6 682.9,272.0 677.0,274.5 682.1,276.1 682.9,280.3 676.2,280.3 672.9,283.7 663.7,285.3 657.0,287.8 652.0,292.0 637.8,293.7 631.1,294.5 631.9,297.0 637.8,297.9 640.3,303.7 643.6,308.7 647.8,311.2 643.6,316.2 639.5,321.2 639.5,325.4 585.2,325.4"/>
<polygon fill="#d8ecff" points="586.0,289.5 592.7,288.7 596.0,290.3 591.0,292.8 586.0,292.5"/>
<polygon fill="#d8ecff" points="622.8,298.7 625.3,297.5 626.1,301.2 623.1,301.2"/>
<polygon fill="#96dfc0" points="654.2,246.9 657.8,246.9 662.8,251.1 667.9,255.3 672.0,260.3 668.7,261.9 664.5,260.3 661.2,256.9 656.2,255.3 654.2,251.9"/>
<polygon fill="#96dfc0" points="702.9,272.8 706.3,265.3 708.0,269.5 710.0,274.5 706.3,273.6"/>
<polygon fill="#96dfc0" points="692.9,314.6 697.9,309.6 701.3,312.9 709.6,312.9 718.0,309.6 714.6,305.4 718.8,303.7 719.6,300.4 721.3,304.5 728.0,307.0 734.7,307.0 734.7,325.4 712.1,325.4 711.3,319.6 702.9,317.9 694.6,317.9"/>
<polygon fill="#c6e3ff" points="660.3,298.7 662.8,293.7 669.5,290.3 676.2,288.7 681.2,292.0 682.1,296.2 677.0,297.9 672.9,302.9 669.5,305.4 663.7,305.4 661.2,302.0"/>
<polygon fill="#d8ecff" points="732.2,215.2 774.8,215.2 770.6,219.3 763.9,221.8 762.2,232.7 768.9,235.2 768.1,241.1 762.2,243.6 754.7,246.9 748.9,247.7 754.7,251.9 753.0,259.4 755.6,265.3 755.6,271.1 759.7,274.5 762.2,279.5 758.1,282.8 751.4,283.7 745.5,287.8 738.0,293.7 733.0,298.7 732.2,298.7"/>
<polygon fill="#d8ecff" points="773.9,227.7 778.1,226.9 783.1,228.0 782.3,231.9 778.1,232.7 774.8,231.0"/>
<polygon fill="#d8ecff" points="733.0,307.9 741.4,306.2 745.5,304.5 747.2,309.6 743.0,312.1 733.0,309.6"/>
<polygon fill="#64b08c" points="850.8,215.2 855.0,220.2 860.0,226.0 865.0,231.9 866.6,237.7 866.6,243.6 862.5,247.7 855.0,251.9 849.9,255.3 850.8,260.3 848.3,265.3 844.1,265.3 842.4,259.4 837.4,256.1 832.4,251.9 824.0,250.2 818.2,253.6 813.2,257.8 808.2,259.4 804.0,263.6 801.5,269.5 797.3,274.5 799.0,278.6 797.3,284.5 802.3,287.8 803.2,294.5 796.5,297.9 790.6,300.4 789.8,304.5 792.3,310.4 786.5,314.6 781.4,317.9 778.1,316.2 771.4,319.6 763.1,322.9 761.4,325.4 881.7,325.4 881.7,215.2"/>
<polygon fill="#96dfc0" points="817.4,292.0 819.9,289.5 826.6,288.7 828.2,291.2 824.0,294.5 819.0,297.0 817.0,295.4"/>
<polygon fill="#08a030" points="806.5,325.4 807.3,320.4 811.5,319.6 816.5,316.2 823.2,314.6 826.6,311.2 833.2,307.9 839.1,306.2 839.9,302.0 848.3,299.5 856.6,298.7 863.3,296.2 870.0,290.3 876.7,283.7 881.7,280.3 881.7,325.4"/>
<polygon fill="#20b810" points="847.4,325.4 848.3,321.2 856.6,318.7 863.3,316.2 866.6,312.9 871.7,310.4 880.3,308.7 881.7,309.6 876.7,312.1 871.7,314.6 868.3,317.9 866.6,322.9 865.0,325.4"/>
<polygon fill="#d8ecff" points="591.8,338.2 592.7,330.7 597.7,328.2 607.7,327.3 615.2,325.7 616.1,323.2 711.3,323.2 710.5,326.5 702.9,331.5 694.6,335.7 692.9,341.5 686.2,345.7 684.6,351.6 681.2,354.1 667.9,354.9 664.5,358.2 664.5,363.3 656.2,368.3 653.7,374.1 652.0,381.6 642.8,385.0 634.4,387.5 631.9,390.8 624.4,394.2 618.6,400.8 616.1,407.5 616.9,410.9 613.6,415.0 612.7,419.2 601.0,420.1 595.2,417.6 593.5,414.2 586.0,416.7 585.2,416.7 585.2,338.2"/>
<polygon fill="#96dfc0" points="641.1,329.0 646.1,328.2 650.3,329.8 647.8,332.4 642.0,333.2"/>
<polygon fill="#d8ecff" points="632.8,391.7 637.0,390.0 639.1,392.5 637.0,395.0 633.6,393.8"/>
<polygon fill="#c6e3ff" points="585.2,352.4 601.0,352.4 601.9,356.6 598.5,359.9 593.5,364.1 592.7,368.3 596.0,372.4 590.2,375.0 586.0,370.8 585.2,370.8"/>
<polygon fill="#64b08c" points="621.1,433.4 626.1,424.2 634.4,419.2 642.8,416.7 652.8,410.9 661.2,404.2 667.9,400.8 672.9,394.2 677.0,390.0 684.6,385.8 692.9,380.0 701.3,375.8 709.6,371.6 716.3,370.8 721.3,364.9 729.7,361.6 731.3,355.7 734.7,354.1 734.7,433.4"/>
<polygon fill="#08a030" points="692.1,433.4 694.6,428.4 701.3,424.2 702.9,420.1 709.6,420.1 714.6,415.0 719.6,412.5 724.7,413.4 729.7,410.9 734.7,409.2 734.7,433.4"/>
<polygon fill="#64b08c" points="733.0,324.0 881.0,324.0 881.0,433.0 733.0,433.0"/>
<polygon fill="#96dfc0" points="732.2,323.2 758.1,323.2 754.7,329.0 753.0,332.4 749.7,336.5 744.7,335.7 741.4,338.2 740.5,342.4 743.9,346.6 740.5,351.6 735.5,354.9 732.2,354.9"/>
<polygon fill="#08a030" points="805.7,323.2 804.8,326.5 799.8,331.5 797.3,340.7 789.8,344.0 783.1,349.1 778.9,351.6 781.4,357.4 785.6,365.8 789.0,372.4 787.3,377.5 784.8,379.1 784.8,383.3 777.3,385.0 774.8,390.0 772.3,397.5 763.1,400.0 756.4,404.2 745.5,406.7 741.4,410.0 732.2,410.0 732.2,433.4 881.7,433.4 881.7,323.2"/>
<polygon fill="#20b810" points="844.1,323.2 844.1,326.5 849.9,325.7 856.6,324.0 862.5,324.8 865.8,328.2 870.0,325.7 869.2,323.2"/>
<polygon fill="#d8ecff" points="0.0,431.0 148.0,431.0 148.0,541.0 0.0,541.0"/>
<polygon fill="#96dfc0" points="-0.8,431.2 48.4,431.2 43.4,437.0 39.3,440.4 37.6,444.5 33.4,446.2 27.6,444.5 24.2,440.4 20.9,442.0 18.4,446.2 10.0,444.5 4.2,444.5 -0.8,443.7"/>
<polygon fill="#d8ecff" points="3.3,434.5 10.0,433.7 13.4,437.0 11.7,439.5 6.7,438.7"/>
<polygon fill="#96dfc0" points="97.7,431.2 95.2,437.0 96.9,442.9 93.6,446.2 81.9,447.9 76.8,449.5 73.5,455.4 70.2,459.6 73.5,462.1 83.5,458.7 83.5,463.7 81.0,467.1 83.5,470.4 78.5,472.1 68.5,473.8 66.8,469.6 61.8,469.6 61.0,474.6 56.0,477.1 53.5,483.8 50.1,488.8 44.3,491.3 55.1,489.6 63.5,486.3 71.8,486.3 74.3,489.6 73.5,495.5 74.3,502.2 68.5,503.8 62.6,506.3 66.8,508.8 73.5,513.9 76.0,517.2 76.0,525.6 71.8,532.2 68.5,533.9 63.5,532.2 62.6,525.6 55.1,520.5 50.1,515.5 40.9,513.9 35.9,507.2 33.4,501.3 29.2,503.8 30.1,512.2 26.7,518.0 27.6,523.0 33.4,523.9 40.1,527.2 45.1,532.2 49.3,537.2 50.1,541.4 148.7,541.4 148.7,431.2"/>
<polygon fill="#96dfc0" points="26.7,541.4 27.6,537.2 31.7,535.6 35.1,538.9 35.1,541.4"/>
<polygon fill="#64b08c" points="106.9,431.2 105.2,440.4 106.9,447.0 98.6,454.6 96.9,459.6 101.1,465.4 93.6,467.9 86.9,471.3 81.9,474.6 81.0,480.4 86.9,481.3 92.7,477.1 96.9,472.9 101.1,475.4 100.2,482.1 98.6,490.5 97.7,498.8 92.7,500.5 88.5,496.3 84.4,496.3 83.5,505.5 85.2,513.9 82.7,520.5 81.0,530.6 71.8,536.4 70.2,541.4 148.7,541.4 148.7,431.2"/>
<polygon fill="#64b08c" points="64.3,479.6 70.2,478.8 76.8,479.3 76.0,481.6 70.2,482.1 64.8,481.8"/>
<polygon fill="#64b08c" points="86.9,448.7 91.9,448.7 91.9,451.7 87.2,451.7"/>
<polygon fill="#96dfc0" points="137.0,538.9 142.0,536.9 145.3,538.1 146.2,541.4 137.0,541.4"/>
<polygon fill="#c6e3ff" points="50.1,438.7 56.8,436.2 70.2,435.3 78.5,434.5 86.9,433.7 85.2,437.8 78.5,440.4 70.2,442.0 66.8,447.0 66.8,455.4 61.8,462.9 55.1,467.9 50.1,475.4 45.9,482.1 41.8,487.1 35.9,493.0 31.7,496.3 27.6,502.2 25.1,510.5 20.0,515.5 18.4,523.0 20.9,528.9 21.7,533.9 15.0,537.2 6.7,536.4 1.7,532.2 2.5,525.6 6.7,522.2 11.7,517.2 13.4,512.2 8.4,513.9 2.5,515.5 1.7,510.5 6.7,507.2 14.2,503.8 15.9,497.2 18.4,491.3 14.2,488.0 7.5,489.6 3.3,487.1 8.4,482.1 11.7,475.4 8.4,471.3 10.0,465.4 15.0,461.2 21.7,458.7 26.7,457.1 20.0,454.6 11.7,455.4 5.0,457.1 1.7,453.7"/>
<polygon fill="#d8ecff" points="11.7,467.9 16.7,466.2 25.1,467.9 30.9,470.4 25.1,472.1 20.0,471.3 15.9,473.8 12.5,472.1"/>
<polygon fill="#c6e3ff" points="40.9,498.0 45.1,494.6 53.5,493.0 60.1,490.5 68.5,489.6 71.8,492.1 71.0,496.3 65.2,498.8 58.5,502.2 55.1,505.5 56.8,510.5 53.5,513.9 46.8,512.2 41.8,507.2"/>
<polygon fill="#c6e3ff" points="58.5,510.5 62.6,509.7 65.2,513.9 64.3,519.7 61.0,520.5 58.5,515.5"/>
<polygon fill="#64b08c" points="146.2,431.2 207.1,431.2 208.8,437.8 205.5,443.7 204.6,449.5 196.3,453.7 187.1,454.6 177.9,457.1 172.9,460.4 171.2,467.9 172.1,475.4 177.9,480.4 180.4,485.5 176.2,489.6 177.1,496.3 172.1,497.2 168.7,502.2 165.4,510.5 162.9,518.9 161.2,527.2 159.5,533.9 160.4,538.1 155.4,538.9 154.5,541.4 146.2,541.4"/>
<polygon fill="#d8ecff" points="228.9,431.2 229.7,438.7 225.5,442.9 226.4,448.7 231.4,455.4 233.9,461.2 238.0,467.1 238.0,472.1 233.9,478.8 230.5,483.8 227.2,490.5 225.5,495.5 222.2,500.5 216.3,505.5 213.0,509.7 211.3,515.5 206.3,520.5 200.5,527.2 195.4,528.9 191.3,534.7 182.1,536.4 180.4,541.4 295.7,541.4 295.7,431.2"/>
<polygon fill="#c6e3ff" points="253.9,470.4 260.6,468.8 267.3,465.4 270.6,459.6 275.6,457.1 279.0,452.0 275.6,447.0 280.6,438.7 284.0,436.2 289.0,437.0 295.7,435.3 295.7,541.4 213.8,541.4 215.5,533.9 218.0,525.6 221.3,517.2 223.8,512.2 232.2,508.0 238.9,507.2 245.6,508.8 252.2,506.3 257.3,501.3 285.7,500.5 286.5,490.5 280.6,482.1 277.3,477.1 275.6,472.1 263.9,473.8 255.6,476.3 251.4,473.8"/>
<polygon fill="#c6e3ff" points="243.1,445.4 247.2,439.5 253.9,440.4 256.4,444.5 253.9,450.4 255.6,454.6 251.4,459.6 248.1,453.7 243.1,450.4"/>
<polygon fill="#a8d4ff" points="228.9,520.5 233.9,520.5 233.9,526.4 229.2,526.4"/>
<polygon fill="#a8d4ff" points="245.6,522.2 248.1,521.4 249.2,527.2 246.4,528.1"/>
<polygon fill="#a8d4ff" points="252.2,525.6 255.6,522.2 258.9,523.0 260.6,528.9 258.9,533.1 254.8,531.4"/>
<polygon fill="#96dfc0" points="245.6,464.6 249.2,464.2 249.2,465.9 245.6,465.9"/>
<polygon fill="#64b08c" points="71.0,539.2 73.5,543.3 86.9,545.0 93.6,547.5 96.9,546.7 98.6,552.5 104.4,555.9 109.4,560.0 115.3,556.7 122.0,553.4 132.0,552.5 134.5,548.4 133.6,539.2"/>
<polygon fill="#d8ecff" points="-0.8,539.2 10.9,539.2 12.5,545.0 16.7,549.2 15.0,552.5 10.0,551.7 3.3,550.0 -0.8,549.2"/>
<polygon fill="#c6e3ff" points="-0.8,539.2 9.2,539.2 8.4,544.2 -0.8,544.2"/>
<polygon fill="#d8ecff" points="11.7,555.0 16.7,552.5 25.1,553.4 31.7,555.0 32.6,559.2 27.6,563.4 21.7,565.1 15.0,562.6 11.7,559.2"/>
<polygon fill="#d8ecff" points="35.9,539.2 46.8,539.2 44.3,541.7 39.3,542.5"/>
<polygon fill="#d8ecff" points="61.8,618.5 66.8,611.8 70.2,611.0 71.8,621.9 63.5,621.9"/>
<polygon fill="#d8ecff" points="128.6,610.2 132.0,608.5 135.3,611.8 136.2,615.2 130.3,616.0 128.6,613.5"/>
<polygon fill="#d8ecff" points="18.4,649.4 17.5,640.2 19.2,633.6 21.7,625.2 25.1,622.7 32.6,622.7 35.1,626.9 37.6,630.2 41.8,628.5 50.1,627.7 55.1,629.4 63.5,626.9 73.5,628.5 75.2,636.1 78.5,638.6 80.2,626.9 81.0,621.0 86.9,619.4 93.6,616.8 100.2,616.0 110.3,616.8 115.3,621.9 116.9,630.2 127.0,631.9 132.0,633.6 137.0,632.7 142.0,630.2 148.7,631.0 148.7,638.6 140.3,641.9 140.3,649.4 70.2,649.4 68.5,643.6 61.8,638.6 56.8,636.9 51.8,640.2 47.6,645.2 47.6,649.4"/>
<polygon fill="#d8ecff" points="-0.8,640.2 6.7,639.4 10.9,640.2 12.5,646.1 6.7,646.9 -0.8,646.9"/>
<polygon fill="#c6e3ff" points="85.2,646.9 90.2,641.9 100.2,640.2 104.4,641.9 103.6,649.4 85.2,649.4"/>
<polygon fill="#64b08c" points="151.2,584.3 156.2,583.1 158.7,588.4 159.5,593.5 157.0,596.0 153.7,591.8"/>
<polygon fill="#64b08c" points="149.5,539.2 154.5,539.2 153.7,546.7 150.3,545.0"/>
<polygon fill="#d8ecff" points="181.2,539.2 173.7,545.8 172.1,555.0 172.9,565.1 176.2,570.1 181.2,574.2 184.6,580.9 191.3,585.1 191.3,591.0 186.3,595.1 186.3,600.1 190.4,602.6 197.1,601.8 202.1,596.8 211.3,595.1 222.2,595.1 233.9,596.0 240.6,597.6 242.2,602.6 250.6,601.8 260.6,598.5 269.0,593.5 275.6,589.3 276.5,584.3 284.0,583.4 287.3,585.9 295.7,586.8 295.7,539.2"/>
<polygon fill="#c6e3ff" points="187.9,547.5 193.8,544.2 203.8,541.7 213.8,539.2 295.7,539.2 295.7,551.7 289.8,553.4 289.0,558.4 284.0,561.7 279.8,567.6 272.3,575.1 267.3,580.1 263.9,585.1 253.9,586.8 250.6,591.8 247.2,596.8 243.9,598.5 242.2,591.8 239.7,583.4 233.9,575.1 228.9,570.1 222.2,566.7 217.2,565.1 214.7,558.4 210.5,556.7 204.6,557.5 203.8,563.4 200.5,565.1 195.4,560.9 190.4,555.9"/>
<polygon fill="#d8ecff" points="223.8,553.4 227.2,550.0 237.2,547.5 233.9,552.5 230.5,558.4 230.5,565.1 227.2,566.7 226.4,558.4"/>
<polygon fill="#d8ecff" points="202.1,620.2 207.1,617.7 213.8,616.8 220.5,613.5 224.7,610.2 230.5,608.5 240.6,607.7 247.2,606.8 253.9,608.5 257.3,613.5 253.9,618.5 247.2,623.5 248.9,627.7 257.3,626.9 265.6,625.2 272.3,622.7 270.6,618.5 264.8,620.2 263.9,614.3 269.0,610.2 277.3,606.8 285.7,603.5 295.7,601.8 295.7,620.2 289.0,626.9 284.0,633.6 277.3,638.6 270.6,640.2 263.9,641.9 255.6,646.9 250.6,649.4 153.7,649.4 155.4,645.2 162.9,640.2 163.7,633.6 170.4,630.2 172.1,625.2 177.1,620.2 182.9,618.5 188.8,621.9 192.1,628.5 197.1,633.6 207.1,632.7 217.2,631.0 228.9,630.2 225.5,628.5 217.2,626.9 210.5,623.5 203.8,622.7"/>
<polygon fill="#d8ecff" points="146.2,620.2 153.7,621.0 154.5,630.2 146.2,632.7"/>
<polygon fill="#96dfc0" points="206.3,639.4 208.8,638.6 210.1,641.1 207.5,642.2"/>
<polygon fill="#d8ecff" points="292.0,431.0 588.0,431.0 588.0,541.0 292.0,541.0"/>
<polygon fill="#c6e3ff" points="292.2,431.2 353.1,431.2 351.5,440.4 346.5,445.4 341.4,452.0 339.8,460.4 334.8,465.4 333.1,471.3 335.6,475.4 335.6,483.8 329.8,490.5 333.9,494.6 332.3,500.5 327.2,507.2 323.9,513.0 314.7,515.5 309.7,520.5 307.2,525.6 308.0,533.9 314.7,538.9 314.7,541.4 292.2,541.4"/>
<polygon fill="#d8ecff" points="293.0,435.3 299.7,433.7 308.0,432.8 309.7,438.7 308.9,445.4 311.4,452.0 310.5,457.9 306.4,458.7 304.7,450.4 300.5,445.4 295.5,439.5"/>
<polygon fill="#d8ecff" points="328.9,431.2 343.1,431.2 342.3,437.0 336.4,439.5 332.3,442.0 329.8,437.0"/>
<polygon fill="#d8ecff" points="302.2,522.2 304.7,521.4 304.4,527.2 302.2,528.9"/>
<polygon fill="#c6e3ff" points="423.3,431.2 422.5,438.7 413.3,441.2 409.9,445.4 411.6,452.0 412.4,458.7 416.6,463.7 420.0,467.9 441.7,467.9 441.7,431.2"/>
<polygon fill="#c6e3ff" points="376.5,522.2 384.9,518.9 384.5,522.2 378.2,525.6"/>
<polygon fill="#c6e3ff" points="367.3,526.4 373.2,525.9 373.2,527.6 367.3,528.1"/>
<polygon fill="#96dfc0" points="409.9,541.4 415.0,535.6 419.1,528.9 424.1,526.4 428.3,528.1 433.3,529.7 441.7,529.7 441.7,541.4"/>
<polygon fill="#c6e3ff" points="439.2,431.2 491.8,431.2 488.4,435.3 480.1,440.4 475.9,445.4 471.7,450.4 465.1,453.7 458.4,457.1 448.4,456.2 439.2,458.7"/>
<polygon fill="#d8ecff" points="473.4,438.7 475.9,437.8 480.1,440.4 480.1,442.9 475.1,441.2"/>
<polygon fill="#d8ecff" points="452.5,433.7 458.4,433.3 458.4,435.3 453.0,435.7"/>
<polygon fill="#96dfc0" points="559.4,431.2 557.8,438.7 556.9,445.4 548.6,446.2 545.2,449.5 538.6,452.0 533.6,455.4 526.9,456.2 519.4,458.7 517.7,454.6 513.5,453.7 512.7,457.1 515.2,460.4 510.2,463.7 506.8,467.1 501.0,467.1 498.5,475.4 495.1,481.3 490.1,485.5 484.3,490.5 480.9,495.5 474.2,496.3 476.8,498.8 482.6,499.7 486.8,503.8 491.0,508.8 496.0,509.7 497.6,506.3 494.3,502.2 494.3,498.8 500.1,498.0 506.8,502.2 512.7,503.0 513.5,510.5 511.0,515.5 510.2,522.2 511.0,527.2 513.5,530.6 511.0,533.1 503.5,535.6 498.5,538.1 493.5,537.2 496.8,532.2 496.0,527.2 490.1,523.0 481.8,523.0 473.4,522.2 466.7,520.5 456.7,521.4 446.7,525.6 439.2,529.7 439.2,541.4 588.7,541.4 588.7,431.2"/>
<polygon fill="#d8ecff" points="520.2,516.4 525.2,515.2 533.6,516.4 542.7,515.5 545.2,520.5 551.9,521.4 555.3,528.1 560.3,532.2 559.4,536.4 553.6,535.6 548.6,538.1 538.6,538.9 535.2,532.2 528.5,528.1 525.2,523.0 521.0,520.5"/>
<polygon fill="#64b08c" points="563.6,467.9 566.1,467.1 569.5,471.3 572.0,476.3 577.0,479.6 582.0,480.4 588.7,480.1 588.7,486.3 573.6,486.3 570.3,480.4 567.0,475.4 564.5,471.3"/>
<polygon fill="#64b08c" points="584.5,505.5 588.7,503.8 588.7,541.4 580.3,541.4 580.3,538.9 585.3,535.6 584.5,525.6"/>
<polygon fill="#d8ecff" points="292.2,539.2 401.6,539.2 399.9,545.0 401.6,550.0 399.9,555.0 394.9,559.2 388.2,563.4 381.5,569.2 376.5,575.1 373.2,579.3 369.0,583.4 366.5,588.4 359.8,590.1 354.8,593.5 349.8,596.8 343.1,598.5 335.6,596.8 328.9,597.6 327.2,591.8 333.9,590.1 334.8,584.3 332.3,579.3 324.7,580.1 314.7,580.9 306.4,583.4 303.0,585.9 292.2,586.8"/>
<polygon fill="#96dfc0" points="305.5,572.6 310.5,571.7 311.0,574.7 306.0,575.1"/>
<polygon fill="#96dfc0" points="338.1,584.3 340.6,580.9 346.5,580.1 349.0,575.9 352.3,571.7 356.5,566.7 359.0,564.2 362.3,567.6 367.3,567.6 367.3,570.9 362.3,573.4 359.0,577.6 354.8,580.9 351.5,584.3 346.5,587.6 340.6,589.3 338.1,587.6"/>
<polygon fill="#96dfc0" points="351.5,557.5 354.0,556.7 354.5,559.2 351.8,559.7"/>
<polygon fill="#c6e3ff" points="292.2,539.2 313.9,539.2 309.7,544.2 303.0,548.4 296.3,550.9 292.2,551.7"/>
<polygon fill="#c6e3ff" points="366.5,556.7 371.5,551.7 375.7,546.7 379.9,546.7 379.0,551.7 374.9,555.0 371.5,558.4 369.8,561.7"/>
<polygon fill="#d8ecff" points="412.4,540.8 416.6,539.2 426.6,539.2 429.2,544.2 426.6,549.2 418.3,550.9 413.3,548.4 411.3,545.0"/>
<polygon fill="#d8ecff" points="292.2,598.5 298.0,599.3 301.4,605.2 300.5,612.7 296.3,616.0 292.2,616.0"/>
<polygon fill="#d8ecff" points="311.4,614.3 315.6,611.0 320.6,606.8 325.6,603.5 333.1,601.8 341.4,604.3 346.5,606.8 350.6,606.8 354.8,605.2 358.2,609.3 356.5,613.5 351.5,616.8 349.0,621.9 348.1,626.9 343.1,628.5 334.8,628.5 329.8,625.2 327.2,621.0 323.1,621.9 318.1,619.4 313.9,616.8"/>
<polygon fill="#d8ecff" points="318.9,636.1 322.2,632.7 326.4,632.7 329.8,636.9 334.8,640.2 338.1,644.4 336.4,649.4 323.1,649.4 322.2,641.9"/>
<polygon fill="#d8ecff" points="379.9,608.5 384.9,606.8 391.6,607.7 393.2,610.2 389.9,612.2 383.2,612.2 380.2,611.0"/>
<polygon fill="#d8ecff" points="391.6,624.4 394.9,622.7 398.2,624.4 399.1,629.4 395.7,630.2 393.2,627.7"/>
<polygon fill="#d8ecff" points="411.6,632.7 415.0,628.5 421.6,628.5 426.6,631.9 428.3,623.5 435.0,618.5 441.7,616.0 441.7,649.4 420.0,649.4 422.5,643.6 420.0,640.2 413.3,637.7"/>
<polygon fill="#d8ecff" points="344.8,634.9 349.8,634.6 349.8,636.2 345.1,636.6"/>
<polygon fill="#d8ecff" points="431.7,583.1 436.7,582.8 436.7,584.8 432.0,585.1"/>
<polygon fill="#d8ecff" points="396.6,577.1 400.8,577.1 400.8,578.8 396.9,578.8"/>
<polygon fill="#64b08c" points="495.1,551.7 500.1,550.9 510.2,552.5 518.5,554.2 523.5,553.4 526.9,549.2 527.7,542.5 533.6,543.3 540.2,548.4 546.9,550.0 549.4,547.5 556.9,545.0 567.0,543.3 575.3,541.7 578.7,539.2 588.7,539.2 588.7,649.4 536.9,649.4 536.1,642.7 540.2,638.6 548.6,637.7 551.1,632.7 546.9,626.9 540.2,624.4 536.9,618.5 533.6,620.2 528.5,621.9 520.2,623.5 513.5,621.9 518.5,618.5 525.2,615.2 526.9,610.2 526.0,605.2 529.4,600.1 526.9,593.5 521.9,590.1 518.5,585.9 513.5,581.8 510.2,575.9 511.0,570.1 506.0,561.7 501.0,555.9"/>
<polygon fill="#96dfc0" points="546.9,553.4 550.3,550.9 556.9,551.7 562.0,554.2 562.8,558.4 558.6,560.0 551.9,558.4 547.8,556.7"/>
<polygon fill="#96dfc0" points="525.2,561.7 528.5,560.9 533.6,565.9 536.1,568.4 531.9,568.4 526.9,565.1"/>
<polygon fill="#64b08c" points="498.5,632.7 503.5,629.4 511.8,626.9 518.5,627.7 521.9,631.9 521.0,636.9 515.2,638.6 510.2,640.2 503.5,637.7 499.3,636.1"/>
<polygon fill="#64b08c" points="481.8,541.7 487.6,540.8 488.4,543.3 483.4,544.2"/>
<polygon fill="#64b08c" points="491.0,546.3 493.5,546.0 493.8,548.7 491.5,548.7"/>
<polygon fill="#08a030" points="546.1,593.5 550.3,589.3 555.3,585.1 560.3,580.9 568.6,578.4 572.0,573.4 577.0,568.4 582.0,565.1 584.5,560.0 588.7,558.4 588.7,625.2 580.3,626.9 570.3,627.7 563.6,628.5 558.6,621.9 555.3,615.2 553.6,608.5 551.9,601.8 548.6,597.6"/>
<polygon fill="#d8ecff" points="440.0,571.7 443.3,565.9 447.5,570.1 451.7,566.7 458.0,566.7 455.9,572.6 450.0,575.1 443.3,574.7"/>
<polygon fill="#d8ecff" points="469.2,583.4 473.4,580.9 481.8,581.8 485.1,583.8 480.1,585.4 472.6,585.9"/>
<polygon fill="#d8ecff" points="439.2,587.6 449.2,587.3 449.7,589.6 439.2,590.1"/>
<polygon fill="#d8ecff" points="481.8,619.4 485.1,616.0 488.4,615.2 489.3,620.2 485.9,622.7 482.6,621.9"/>
<polygon fill="#d8ecff" points="474.2,547.0 479.3,546.7 478.8,550.0 475.1,549.2"/>
<polygon fill="#d8ecff" points="439.2,616.0 441.7,618.5 443.3,626.9 450.0,625.2 453.4,630.2 455.0,635.2 458.4,638.6 461.7,643.6 460.9,649.4 439.2,649.4"/>
<polygon fill="#d8ecff" points="465.1,649.4 466.7,641.9 475.1,639.4 475.1,649.4"/>
<polygon fill="#d8ecff" points="577.0,636.1 582.0,635.2 585.3,638.6 588.7,640.2 588.7,649.4 576.2,649.4 578.7,643.6 577.3,640.2"/>
<polygon fill="#d8ecff" points="562.8,645.2 566.1,643.9 567.0,646.9 563.6,647.8"/>
<polygon fill="#64b08c" points="585.0,431.0 881.0,431.0 881.0,541.0 585.0,541.0"/>
<polygon fill="#96dfc0" points="585.2,431.2 616.1,431.2 607.7,434.5 606.9,441.2 605.2,448.7 612.7,451.2 618.6,454.6 621.9,458.7 619.4,463.7 613.6,467.1 604.4,469.6 597.7,473.8 594.4,477.1 597.7,483.0 601.9,489.6 605.2,495.5 603.5,499.7 598.5,501.3 594.4,498.0 590.2,496.3 587.7,502.2 585.2,505.5"/>
<polygon fill="#96dfc0" points="585.2,513.9 587.7,514.7 587.3,518.9 585.2,519.7"/>
<polygon fill="#96dfc0" points="624.1,438.7 626.9,438.7 626.9,440.0 624.1,440.0"/>
<polygon fill="#08a030" points="688.7,431.2 687.9,433.7 692.1,438.7 690.4,442.9 684.6,442.9 677.0,442.0 675.4,446.2 671.2,448.7 672.0,452.0 678.7,452.9 684.6,457.1 686.2,450.4 690.4,445.4 696.3,442.0 700.4,444.5 702.9,452.0 704.6,457.1 701.3,462.1 701.3,467.9 698.8,475.4 702.9,482.1 703.8,491.3 709.6,492.1 719.6,490.5 724.7,493.8 729.7,495.5 731.3,489.6 726.3,483.8 726.3,477.1 731.3,472.1 734.7,470.4 734.7,446.2 729.7,445.4 727.2,442.0 729.7,437.8 734.7,437.0 734.7,431.2"/>
<polygon fill="#64b08c" points="712.1,444.5 718.0,445.4 721.0,448.7 719.6,458.7 714.6,457.9 712.1,452.0"/>
<polygon fill="#08a030" points="598.5,538.9 601.9,532.2 603.5,525.6 611.1,526.4 616.1,528.9 615.2,536.4 611.1,537.2 609.4,541.4 597.7,541.4"/>
<polygon fill="#08a030" points="732.2,431.2 881.7,431.2 881.7,494.6 875.0,495.1 873.3,502.2 870.0,509.7 865.8,508.8 861.6,502.2 860.0,498.8 862.5,495.5 860.8,493.0 855.8,494.6 854.1,498.8 852.4,504.7 848.3,503.8 843.3,500.5 836.6,498.0 828.2,496.3 826.6,502.2 823.2,503.0 822.4,506.3 818.2,506.3 813.2,500.5 809.0,493.8 808.2,486.3 804.8,482.1 800.7,478.8 799.0,487.1 798.5,495.5 795.6,495.5 789.8,493.0 782.3,492.1 773.9,493.0 772.3,487.1 768.1,486.3 768.9,496.3 763.1,499.7 759.7,494.6 753.9,492.1 748.9,491.3 747.2,486.3 743.0,484.6 739.7,483.8 738.8,480.4 741.4,476.3 736.3,471.3 732.2,468.8"/>
<polygon fill="#64b08c" points="762.2,480.4 765.6,479.6 767.2,473.8 768.9,475.4 767.2,483.8 765.6,482.1"/>
<polygon fill="#96dfc0" points="748.9,526.4 752.2,525.2 756.4,528.1 753.9,528.9 750.5,528.1"/>
<polygon fill="#96dfc0" points="761.4,532.2 764.7,527.2 770.6,526.1 768.9,528.9 768.1,533.1 773.1,537.2 771.4,541.4 763.9,541.4"/>
<polygon fill="#96dfc0" points="778.1,532.2 780.6,529.7 784.8,531.4 785.1,536.4 782.3,538.1 778.9,536.4"/>
<polygon fill="#96dfc0" points="775.6,538.9 781.4,538.1 783.1,541.4 775.6,541.4"/>
<polygon fill="#64b08c" points="585.0,539.0 734.0,539.0 734.0,649.0 585.0,649.0"/>
<polygon fill="#96dfc0" points="711.3,539.2 706.3,541.7 703.8,546.7 708.0,551.7 702.9,555.9 702.1,561.7 705.4,569.2 706.3,573.4 702.9,578.4 697.9,578.4 689.6,583.4 686.2,588.4 679.6,591.8 674.5,597.6 669.5,603.5 664.5,609.3 672.9,610.2 676.2,615.2 671.2,621.9 667.9,628.5 669.5,635.2 666.2,643.6 667.9,649.4 734.7,649.4 734.7,539.2"/>
<polygon fill="#08a030" points="585.2,553.4 587.7,548.4 592.3,539.2 608.6,539.2 604.4,545.8 599.4,553.4 598.5,560.0 599.4,569.2 597.7,575.9 593.5,583.4 594.4,588.4 599.4,590.1 603.5,583.4 611.1,585.1 619.4,588.4 627.8,587.6 636.1,585.9 643.6,584.3 642.8,589.3 639.5,595.1 639.5,603.5 635.3,606.8 633.6,615.2 634.4,623.5 633.6,633.6 636.1,640.2 634.4,649.4 585.2,649.4"/>
<polygon fill="#64b08c" points="585.2,626.9 596.0,626.0 602.7,630.2 603.5,636.9 596.0,643.6 589.3,646.9 585.2,646.9"/>
<polygon fill="#96dfc0" points="585.2,633.6 592.7,633.6 599.4,634.4 592.7,638.6 585.2,641.9"/>
<polygon fill="#96dfc0" points="647.8,598.5 651.2,593.5 658.7,590.1 663.7,589.3 659.5,595.1 656.2,601.8 652.0,604.3 650.3,610.2 643.6,613.5 641.1,619.4 637.0,615.2 637.0,608.5 641.1,604.3 645.3,603.5"/>
<polygon fill="#96dfc0" points="660.3,616.0 665.4,613.5 671.2,614.3 672.0,619.4 666.2,621.9 661.2,621.0"/>
<polygon fill="#96dfc0" points="639.5,631.0 642.8,627.7 649.5,632.7 659.5,633.6 659.5,638.6 652.8,641.1 651.2,646.9 647.8,649.4 636.1,649.4 639.5,640.2"/>
<polygon fill="#d8ecff" points="718.0,562.6 724.7,561.7 728.8,564.2 728.0,567.6 719.6,565.9"/>
<polygon fill="#d8ecff" points="713.8,588.4 718.0,585.9 723.8,587.6 725.5,593.5 721.3,594.3 716.3,591.8"/>
<polygon fill="#d8ecff" points="682.1,618.5 687.9,615.2 694.6,612.7 699.6,609.3 699.6,603.5 697.9,600.1 702.9,598.5 708.0,600.1 711.3,606.0 718.0,604.3 721.3,601.8 724.7,606.0 734.7,606.8 734.7,649.4 699.6,649.4 702.9,641.9 701.3,633.6 692.9,623.5 684.6,625.2"/>
<polygon fill="#d8ecff" points="636.1,643.6 639.5,638.6 643.6,640.2 647.8,649.4 636.1,649.4"/>
<polygon fill="#d8ecff" points="669.5,646.9 676.2,640.2 682.9,638.6 689.6,640.2 696.3,643.6 699.6,649.4 668.7,649.4"/>
<polygon fill="#c6e3ff" points="696.3,626.9 701.3,620.2 709.6,616.8 716.3,610.2 723.0,608.5 726.3,613.5 731.3,615.2 734.7,613.5 734.7,649.4 706.3,649.4 702.9,641.9 701.3,633.6"/>
<polygon fill="#d8ecff" points="702.9,630.2 706.3,627.7 710.5,630.2 708.8,633.6 704.6,633.6"/>
<polygon fill="#d8ecff" points="714.6,635.2 718.0,633.6 719.6,637.7 716.3,639.4"/>
<polygon fill="#d8ecff" points="728.0,618.5 733.0,617.7 733.0,621.9 728.8,622.2"/>
<polygon fill="#96dfc0" points="733.0,539.0 881.0,539.0 881.0,649.0 733.0,649.0"/>
<polygon fill="#64b08c" points="732.2,539.2 763.9,539.2 766.4,544.2 771.4,542.5 773.9,547.5 778.1,552.5 774.8,556.7 768.9,563.4 765.6,569.2 761.4,574.2 763.1,577.6 758.1,581.8 753.0,585.9 748.0,591.8 745.5,598.5 741.4,602.6 736.3,605.2 733.8,604.3 735.5,596.8 736.3,588.4 739.7,583.4 743.9,573.4 745.5,563.4 739.7,555.0 732.2,550.9"/>
<polygon fill="#64b08c" points="783.1,539.2 782.3,546.7 784.0,551.7 783.1,555.9 788.1,560.0 793.1,565.1 796.5,570.1 803.2,570.9 809.8,569.2 816.5,573.4 823.2,576.8 829.9,575.9 834.9,580.1 839.9,581.8 840.8,588.4 836.6,593.5 831.6,595.1 825.7,594.3 826.6,599.3 831.6,602.6 834.9,604.3 839.9,598.5 846.6,591.8 853.3,588.4 850.8,584.3 856.6,580.9 865.0,579.3 873.3,575.9 877.5,568.4 881.7,566.7 881.7,539.2"/>
<polygon fill="#64b08c" points="738.8,613.5 743.0,610.2 747.2,611.8 747.7,617.7 743.9,622.7 739.7,621.9 738.0,617.7"/>
<polygon fill="#96dfc0" points="842.4,556.7 844.9,556.7 844.9,561.7 842.4,561.7"/>
<polygon fill="#96dfc0" points="763.9,539.2 771.4,539.2 770.6,543.3 766.4,544.2"/>
<polygon fill="#d8ecff" points="748.0,602.6 753.0,596.8 761.4,593.5 771.4,593.5 776.4,591.0 784.8,590.1 790.6,586.8 794.8,588.4 794.8,595.1 799.8,599.3 806.5,603.5 813.2,604.3 819.9,606.0 826.6,608.5 833.2,613.5 834.1,620.2 829.9,626.9 825.7,632.7 819.9,631.0 816.5,636.1 813.2,640.2 806.5,643.6 803.2,649.4 749.7,649.4 748.0,640.2 751.4,630.2 756.4,623.5 762.2,620.2 771.4,621.9 774.8,618.5 766.4,616.8 759.7,618.5 756.4,613.5 750.5,608.5"/>
<polygon fill="#d8ecff" points="841.6,610.2 846.6,605.2 853.3,598.5 856.6,592.6 860.0,591.8 865.0,585.1 871.7,580.9 881.7,579.3 881.7,649.4 811.5,649.4 816.5,643.6 823.2,640.2 829.9,635.2 836.6,630.2 846.6,623.5 849.9,618.5 846.6,613.5"/>
<polygon fill="#d8ecff" points="769.8,588.4 773.9,587.3 775.1,589.8 771.4,591.0"/>
<polygon fill="#d8ecff" points="732.2,608.5 735.5,610.2 736.3,615.2 732.2,616.8"/>
<polygon fill="#d8ecff" points="732.2,623.5 734.7,624.4 734.3,633.6 732.2,634.4"/>
<polygon fill="#c6e3ff" points="761.4,606.8 766.4,601.8 774.8,596.8 783.1,593.5 789.0,595.1 789.8,598.5 784.0,598.5 776.4,602.6 771.4,608.5 766.4,613.5 762.2,611.8"/>
<polygon fill="#c6e3ff" points="781.4,613.5 788.1,611.8 799.8,613.5 806.5,611.0 813.2,609.3 819.9,611.8 826.6,615.2 828.2,621.9 823.2,625.2 816.5,630.2 811.5,635.2 804.8,638.6 796.5,640.2 788.1,638.6 784.8,633.6 783.1,626.9 781.4,621.9 778.1,620.2"/>
<polygon fill="#c6e3ff" points="753.0,635.2 758.1,626.9 766.4,623.5 774.8,626.9 781.4,633.6 783.1,640.2 779.8,646.9 776.4,649.4 753.0,649.4 751.4,641.9"/>
<polygon fill="#a8d4ff" points="754.7,640.2 761.4,638.6 766.4,641.9 759.7,644.4 755.6,643.6"/>
<polygon fill="#a8d4ff" points="763.9,633.6 770.6,632.7 772.3,636.1 765.6,636.9"/>
<polygon fill="#a8d4ff" points="784.8,630.2 789.8,633.6 795.6,634.4 794.8,636.9 788.1,636.9 784.8,634.4"/>
<polygon fill="#a8d4ff" points="798.2,632.7 804.8,631.9 805.7,635.2 799.0,636.1"/>
<polygon fill="#a8d4ff" points="817.4,615.2 819.9,616.0 823.2,620.2 819.0,620.2"/>
<polygon fill="#a8d4ff" points="807.3,611.8 810.7,613.5 809.0,616.0"/>
<polygon fill="#c6e3ff" points="849.9,606.8 856.6,601.8 865.0,599.3 875.0,596.0 881.7,595.1 881.7,649.4 833.2,649.4 834.9,643.6 841.6,636.9 849.9,633.6 856.6,626.9 860.0,620.2 856.6,615.2 851.6,611.8"/>
<polygon fill="#a8d4ff" points="863.3,603.5 870.0,601.0 875.8,598.5 875.0,602.6 868.3,606.0 864.1,606.0"/>
<polygon fill="#a8d4ff" points="855.8,606.0 858.3,606.8 859.1,610.2 856.6,609.3"/>
<polygon fill="#a8d4ff" points="867.5,633.6 870.0,632.7 871.7,640.2 868.6,640.2"/>
<polygon fill="#a8d4ff" points="860.0,631.9 861.6,631.5 862.0,636.9 860.3,636.9"/>
<polygon fill="#96dfc0" points="587.7,-0.8 584.3,5.0 581.0,10.9 584.3,16.7 581.8,21.7 576.8,20.9 575.1,25.9 568.4,27.6 564.3,24.2 560.9,27.6 560.1,31.7 564.3,35.9 570.1,38.4 576.0,43.4 581.0,50.1 586.8,56.0 588.5,56.0 588.5,-0.8"/>
<polygon fill="#96dfc0" points="549.2,30.9 553.4,29.7 560.1,30.1 560.1,33.4 554.2,34.7 550.1,33.4"/>
<polygon fill="#96dfc0" points="539.2,33.4 545.1,31.4 545.1,35.9 540.9,38.4 538.4,37.1"/>
<polygon fill="#64b08c" points="211.3,68.5 215.5,66.0 216.3,60.1 219.7,56.8 222.2,59.3 221.3,64.3 218.8,68.5 215.5,70.2"/>
<polygon fill="#64b08c" points="180.4,93.6 186.3,91.9 187.1,100.2 182.9,99.4"/>
<polygon fill="#64b08c" points="185.1,82.7 190.8,82.7 190.8,84.4 185.1,84.4"/>
<polygon fill="#96dfc0" points="266.4,56.8 270.6,56.5 270.6,58.8 266.9,58.8"/>
<polygon fill="#64b08c" points="290.7,75.2 294.3,73.5 294.3,100.2 291.0,98.6"/>
<g fill="none" stroke="#000" stroke-linejoin="round" stroke-linecap="round" shape-rendering="geometricPrecision">
<path stroke-width="1.8" d="M-1.7 180.4C-0.2 180.2 8.8 178.6 11.7 178.8C14.5 178.9 22.4 181.4 25.1 182.1C27.7 182.8 35.0 184.7 36.8 185.4C38.5 186.1 41.2 187.5 41.8 188.8C42.3 190.0 41.2 195.5 41.8 197.1C42.3 198.7 45.9 203.0 46.8 203.8C47.7 204.6 49.2 205.2 50.1 204.5C51.0 203.8 53.3 197.6 55.1 197.1C56.9 196.7 63.8 199.9 66.8 200.5C69.9 201.1 80.1 202.5 83.5 202.8C86.9 203.2 96.1 204.2 98.6 203.8C101.1 203.4 105.1 200.2 106.9 198.8C108.7 197.4 113.1 192.1 115.3 191.1C117.4 190.2 125.5 189.7 127.0 189.8C128.4 189.9 127.4 191.7 128.6 192.1C129.9 192.5 137.1 193.1 138.7 193.8C140.3 194.5 142.1 197.2 143.7 198.8C145.3 200.4 151.7 207.2 153.7 208.8C155.7 210.4 160.5 213.1 162.0 213.8C163.6 214.6 166.8 215.4 167.9 216.0C169.0 216.6 171.1 218.5 172.1 219.3C173.0 220.1 175.6 223.3 177.1 223.5C178.6 223.8 184.3 221.9 186.3 221.8C188.2 221.8 193.4 223.2 195.4 223.0C197.5 222.8 203.5 220.2 205.5 220.2C207.4 220.1 211.9 221.9 213.8 222.3C215.8 222.8 221.4 223.9 223.8 224.0C226.3 224.1 235.1 222.9 237.2 223.0C239.3 223.1 241.9 224.4 243.9 225.2C245.9 226.0 252.7 229.0 255.6 230.2C258.4 231.4 267.6 235.8 270.6 236.9C273.7 238.0 281.5 239.8 284.0 240.2C286.5 240.7 292.6 240.9 294.0 241.1C295.4 241.2 297.0 241.5 297.4 241.6"/>
<path stroke-width="1.8" d="M-1.7 180.4C-1.1 181.0 2.9 184.2 3.3 185.4C3.8 186.7 3.2 191.2 2.7 192.1C2.1 193.1 -1.2 194.2 -1.7 194.5"/>
<path stroke-width="1.8" d="M297.4 241.6C297.0 242.0 294.9 244.7 294.0 246.1C293.1 247.4 290.1 252.5 289.0 254.4C287.9 256.4 285.1 262.3 284.0 264.4C282.9 266.6 280.0 272.6 279.0 274.5C277.9 276.3 275.6 280.7 274.0 282.0C272.4 283.3 265.4 285.9 263.9 287.0C262.5 288.1 262.2 291.1 260.6 292.0C259.0 292.9 250.4 294.2 248.9 295.4C247.4 296.5 247.3 301.4 246.4 302.9C245.5 304.3 242.2 307.4 240.6 308.7C238.9 310.1 232.5 314.1 230.5 315.4C228.6 316.7 223.2 320.3 222.2 321.2C221.1 322.2 221.2 323.1 220.5 324.0C219.8 324.9 216.4 328.4 215.5 329.8C214.6 331.3 212.5 335.5 212.2 337.4C211.8 339.2 211.9 345.5 212.2 347.4C212.4 349.3 215.2 353.4 214.7 354.9C214.1 356.4 208.2 360.1 207.1 361.6C206.1 363.1 205.3 367.4 204.6 369.1C203.9 370.8 201.2 375.7 200.5 377.5C199.7 379.2 198.0 383.9 198.0 385.8C198.0 387.8 200.2 394.1 200.5 395.8C200.7 397.6 201.3 401.1 200.5 402.5C199.6 403.9 193.4 407.9 192.1 409.2C190.9 410.5 189.2 413.6 188.8 415.0C188.3 416.5 188.6 420.7 187.9 422.6C187.3 424.4 183.5 431.1 182.9 432.1C182.4 433.1 183.6 431.2 182.9 432.0C182.2 432.8 177.6 438.0 176.2 439.5C174.9 441.0 171.5 444.5 170.4 446.2C169.3 447.9 166.9 453.6 166.2 455.4C165.5 457.2 164.1 461.1 163.7 462.9C163.3 464.7 162.5 470.0 162.9 472.1C163.2 474.1 166.1 480.2 167.0 482.1C168.0 484.0 171.4 487.9 172.1 489.6C172.7 491.4 173.3 497.3 172.9 498.8C172.4 500.3 168.9 502.6 167.9 503.8C166.9 505.1 164.3 508.7 163.7 510.5C163.1 512.3 162.5 518.8 162.0 520.5C161.6 522.3 159.8 526.0 159.5 527.2C159.3 528.5 160.1 531.0 159.5 532.2C159.0 533.5 155.1 538.1 154.5 538.9C153.9 539.7 153.7 539.0 153.7 540.0C153.7 541.0 154.4 546.4 154.5 548.4C154.6 550.3 155.0 556.6 154.5 558.4C154.1 560.2 150.9 563.6 150.3 565.1C149.8 566.5 149.1 570.4 149.5 571.7C149.9 573.1 152.6 576.3 153.7 577.6C154.8 578.8 158.5 582.2 159.5 583.4C160.6 584.7 162.9 588.0 163.7 589.3C164.5 590.5 166.7 594.2 167.0 595.1C167.4 596.0 166.7 597.4 166.7 597.6"/>
<path stroke-width="1.8" d="M181.2 596.0C179.7 596.2 169.5 597.3 166.7 598.0C164.0 598.6 157.5 601.2 155.4 602.1C153.3 603.1 147.9 606.3 147.0 606.8C146.1 607.3 147.4 606.6 147.0 606.8C146.7 607.1 143.6 608.5 143.7 609.3C143.8 610.1 147.6 613.5 147.8 614.3C148.1 615.2 146.8 616.7 146.2 617.2C145.6 617.6 142.6 617.8 142.0 618.5C141.4 619.3 141.2 623.9 140.3 624.4C139.4 624.8 134.8 622.6 133.6 622.7C132.5 622.8 129.6 624.4 129.5 625.2C129.3 626.0 132.2 629.1 132.0 630.2C131.7 631.3 128.2 634.4 127.0 635.2C125.7 636.0 122.1 637.5 120.3 637.7C118.5 637.9 112.4 636.8 110.3 636.9C108.1 637.0 102.3 638.1 100.2 638.6C98.2 639.1 92.5 641.4 91.0 641.6C89.6 641.7 88.2 640.8 86.9 640.2C85.5 639.6 79.8 637.0 78.5 636.1C77.3 635.1 75.3 632.4 75.2 631.0C75.1 629.7 78.2 624.4 77.7 623.5C77.1 622.6 72.0 622.9 70.2 622.7C68.3 622.5 62.3 621.9 60.1 621.9C58.0 621.9 52.3 622.8 50.1 622.7C48.0 622.6 41.9 620.9 40.1 621.0C38.3 621.1 33.9 622.7 33.4 623.5C32.9 624.3 34.7 627.6 35.1 628.5C35.4 629.5 37.3 631.6 36.8 632.7C36.2 633.8 31.5 637.8 30.1 638.6C28.6 639.4 24.3 639.6 23.4 640.2C22.5 640.9 22.3 643.5 21.7 644.4C21.2 645.3 18.7 648.1 18.4 648.6"/>
<path stroke-width="1.8" d="M181.2 596.0C180.9 596.7 179.0 601.8 177.9 602.6C176.8 603.5 171.1 603.8 171.2 604.3C171.3 604.9 176.9 607.2 178.7 607.7C180.6 608.1 186.6 608.6 188.8 608.5C190.9 608.4 196.8 607.3 198.8 606.8C200.7 606.4 205.7 605.0 207.1 604.3C208.6 603.6 211.2 601.0 212.2 600.1C213.1 599.2 215.3 596.2 216.3 596.0C217.4 595.7 220.3 597.4 222.2 597.6C224.0 597.9 232.4 597.4 233.9 598.1C235.3 598.8 234.1 603.7 235.5 604.3C237.0 605.0 244.2 604.3 247.2 604.3C250.3 604.3 261.3 604.5 263.9 604.3C266.6 604.1 270.7 603.4 272.3 602.6C273.9 601.9 277.4 598.6 279.0 597.6C280.6 596.7 285.7 594.2 287.3 593.5C288.9 592.7 293.4 591.3 294.0 591.0C294.6 590.6 292.2 590.3 293.0 590.1C293.8 589.9 299.6 588.9 301.4 588.8C303.1 588.7 308.1 588.7 309.7 588.9C311.3 589.2 315.2 590.1 316.4 591.0C317.5 591.8 319.1 595.9 320.6 596.8C322.0 597.7 327.3 599.1 329.8 599.3C332.2 599.5 340.9 598.9 343.1 598.8C345.3 598.8 349.4 599.4 350.6 598.8C351.9 598.2 353.8 594.4 354.8 593.5C355.8 592.5 358.6 590.6 359.8 590.1C361.1 589.7 365.3 589.0 366.5 589.3C367.7 589.5 369.8 591.8 370.7 592.6C371.6 593.4 374.1 596.4 374.9 596.8C375.7 597.2 377.7 596.9 378.2 596.0C378.7 595.1 379.2 589.4 379.9 588.4C380.5 587.5 383.6 587.6 384.0 586.8C384.5 586.0 384.5 581.7 384.0 580.9C383.6 580.1 381.2 579.4 379.9 579.3C378.5 579.1 373.3 579.1 371.5 579.3C369.7 579.4 364.8 580.5 363.2 580.9C361.6 581.4 357.9 583.3 356.5 583.4C355.1 583.6 351.2 583.0 349.8 582.6C348.4 582.2 344.3 580.7 343.1 580.1C342.0 579.5 339.4 577.8 338.9 576.8C338.5 575.7 338.6 571.1 338.9 570.1C339.3 569.0 341.3 567.4 342.3 566.7C343.3 566.0 347.2 564.5 348.1 563.4C349.0 562.3 349.7 557.9 350.6 556.7C351.5 555.5 355.0 553.2 356.5 552.5C358.0 551.9 363.2 551.2 364.8 550.9C366.4 550.5 370.6 549.9 371.5 549.2C372.4 548.5 372.3 544.9 373.2 544.2C374.1 543.5 378.7 542.5 379.9 542.5C381.0 542.5 383.3 543.2 384.0 544.2C384.8 545.2 386.0 550.7 386.6 551.7C387.1 552.7 388.5 553.8 389.1 553.4C389.6 552.9 390.9 548.3 391.6 547.5C392.2 546.7 394.0 545.5 394.9 545.8C395.8 546.2 399.0 550.1 399.9 550.9C400.8 551.7 402.4 552.9 403.3 553.4C404.1 553.8 407.9 554.1 408.3 555.0C408.6 555.9 406.5 560.2 406.6 561.7C406.7 563.2 407.9 568.4 409.1 569.2C410.4 570.1 417.0 570.2 418.3 569.7C419.5 569.3 420.1 565.7 420.8 565.1C421.5 564.4 423.8 563.6 425.0 563.7C426.1 563.8 430.2 565.2 431.7 565.9C433.1 566.6 437.4 568.8 438.3 570.1C439.2 571.3 438.9 576.5 440.0 577.6C441.1 578.7 446.6 580.2 448.4 580.4C450.1 580.7 454.9 580.4 456.7 580.1C458.5 579.8 463.5 578.2 465.1 577.6C466.6 577.0 469.1 575.0 470.9 574.7C472.7 574.5 479.4 575.0 481.8 575.1C484.2 575.2 490.6 575.8 493.5 575.9C496.3 576.1 506.5 576.0 508.5 576.4C510.5 576.8 509.9 579.3 511.8 579.8C513.8 580.2 524.2 580.3 526.9 580.9C529.5 581.6 534.4 584.6 536.9 585.9C539.4 587.3 547.4 591.9 550.3 593.5C553.1 595.0 560.8 598.7 563.6 600.1C566.5 601.6 574.5 605.6 577.0 606.8C579.5 608.1 586.0 611.3 587.0 611.8C588.0 612.4 585.0 611.7 586.0 611.8C587.0 612.0 593.7 613.2 596.0 613.5C598.3 613.8 605.4 614.3 607.7 614.3C610.0 614.3 616.0 614.0 617.7 613.5C619.4 613.0 622.3 610.6 623.6 609.3C624.8 608.1 628.1 603.1 629.4 601.8C630.8 600.6 634.9 598.0 636.1 597.6C637.4 597.3 640.2 597.8 641.1 598.5C642.0 599.1 644.0 602.4 644.5 603.5C644.9 604.6 644.8 607.6 645.3 608.5C645.8 609.3 648.3 611.3 649.5 611.5C650.6 611.7 654.6 610.2 656.2 610.2C657.8 610.1 662.7 610.9 664.5 611.0C666.3 611.1 671.5 610.4 672.9 611.0C674.2 611.6 676.2 615.6 677.0 616.8C677.9 618.1 680.4 621.7 681.2 622.7C682.0 623.7 683.5 625.9 684.6 626.0C685.6 626.1 690.0 623.1 691.2 623.5C692.5 624.0 695.2 628.8 696.3 630.2C697.3 631.6 700.6 635.8 701.3 636.9C702.0 638.0 703.1 639.3 702.9 640.2C702.8 641.1 700.3 644.4 699.6 645.2C698.9 646.0 696.6 647.5 696.3 647.8"/>
<path stroke-width="1.8" d="M586.0 611.8C586.4 612.4 588.3 615.6 589.3 616.8C590.4 618.1 594.4 622.3 596.0 623.5C597.6 624.8 603.0 627.5 604.4 628.5C605.8 629.6 608.8 632.3 609.4 633.6C610.0 634.8 610.2 638.6 610.2 640.2C610.2 641.8 609.5 647.7 609.4 648.6"/>
<path stroke-width="1.8" d="M778.1 648.6C778.6 647.7 781.7 642.0 782.3 640.2C782.8 638.5 783.3 633.5 783.1 631.9C782.9 630.3 781.3 626.3 780.6 625.2C779.9 624.1 776.8 623.1 776.4 621.9C776.1 620.6 777.1 614.9 777.3 613.5C777.4 612.1 778.4 609.5 778.1 608.5C777.8 607.5 775.0 605.1 774.8 604.3C774.5 603.5 774.7 601.5 775.6 601.0C776.5 600.5 782.1 599.5 783.1 599.6C784.1 599.8 784.8 602.0 784.8 602.6C784.8 603.3 782.9 605.3 782.8 606.0C782.7 606.7 783.2 608.7 784.0 609.3C784.7 610.0 788.1 611.5 789.8 611.8C791.5 612.2 798.2 612.9 799.8 612.7C801.4 612.4 803.8 610.1 804.8 609.3C805.9 608.5 808.6 605.6 809.8 605.2C811.1 604.7 814.7 604.6 816.5 604.8C818.3 605.0 824.4 606.3 826.6 606.8C828.7 607.4 834.6 609.5 836.6 610.2C838.5 610.8 843.7 612.0 844.9 612.7C846.2 613.3 847.2 615.7 848.3 616.0C849.3 616.4 853.3 616.3 855.0 616.0C856.6 615.7 861.5 613.9 863.3 613.5C865.1 613.1 870.1 612.4 871.7 612.7C873.2 612.9 877.1 615.3 877.5 616.0C877.9 616.7 875.8 618.7 875.0 619.4C874.2 620.0 870.2 621.2 870.0 621.9C869.8 622.5 872.2 624.6 873.3 625.2C874.5 625.8 880.0 627.0 880.8 627.2"/>
<path stroke-width="1.1" d="M-0.8 81.9C0.5 81.2 8.9 77.3 11.7 76.0C14.5 74.8 22.8 70.5 25.1 70.2C27.3 69.8 31.2 72.7 32.6 72.7C34.0 72.6 36.2 69.4 38.4 69.8C40.7 70.2 50.3 75.8 53.5 76.5C56.6 77.3 64.5 75.8 67.7 76.8C70.9 77.9 81.0 85.6 83.5 86.5C86.0 87.5 89.6 86.4 91.0 86.0C92.5 85.7 95.9 82.3 96.9 83.0C97.9 83.7 99.5 90.7 100.2 92.7C100.9 94.7 103.0 100.3 103.6 101.9C104.1 103.5 105.1 107.4 105.2 108.1"/>
<path stroke-width="1.1" d="M105.2 107.6C105.1 107.9 104.8 109.3 103.6 110.3C102.3 111.3 94.4 115.5 93.6 116.9C92.7 118.4 94.2 121.9 95.2 123.6C96.3 125.3 101.4 131.8 103.6 133.0C105.7 134.2 113.2 134.1 115.3 134.6C117.3 135.1 122.2 136.5 123.0 137.7C123.7 138.8 122.8 143.6 122.0 145.3C121.1 147.0 116.7 151.7 115.3 153.7C113.8 155.7 110.0 161.9 108.6 163.7C107.2 165.5 102.6 168.8 101.9 170.4C101.2 172.0 101.0 176.9 101.9 178.8C102.8 180.6 108.8 186.5 110.3 187.8C111.7 189.1 114.7 190.8 115.3 191.1"/>
<path stroke-width="1.1" d="M328.1 -1.7C328.8 -0.1 333.0 9.6 334.8 13.4C336.5 17.1 342.5 31.2 344.8 33.4C347.1 35.7 355.8 33.5 356.5 34.4C357.2 35.3 353.8 39.9 351.5 41.8C349.2 43.6 336.8 49.5 334.8 51.8C332.7 54.1 331.5 60.5 332.4 63.5C333.3 66.5 341.8 77.2 343.1 80.2C344.4 83.2 343.9 89.6 344.8 91.9C345.7 94.2 350.4 100.0 351.5 101.9C352.5 103.8 354.9 108.1 354.8 109.3C354.7 110.6 351.0 113.2 350.6 113.8C350.3 114.5 350.5 115.2 351.5 115.5C352.4 115.8 358.6 116.2 359.8 116.7C361.1 117.2 363.0 119.5 363.2 120.5C363.3 121.6 361.3 125.0 361.2 126.4C361.0 127.7 361.8 131.5 361.5 133.1C361.2 134.7 359.0 139.5 358.2 141.4C357.4 143.3 354.0 149.4 354.0 150.6C354.0 151.8 357.8 151.6 358.2 152.3C358.5 152.9 358.4 155.1 357.3 156.4C356.2 157.8 350.0 163.2 348.1 164.8C346.3 166.4 340.9 170.2 339.8 171.1C338.6 172.1 337.7 172.5 337.3 174.0C336.8 175.4 336.0 181.7 335.6 184.8C335.2 188.0 334.3 199.8 333.1 203.2C331.9 206.6 325.6 215.2 324.7 216.6C323.8 217.9 325.5 215.0 324.7 216.0C324.0 217.0 319.7 223.9 318.1 226.0C316.5 228.2 311.5 234.4 309.7 236.0C307.9 237.7 302.7 241.1 301.4 241.9C300.0 242.6 297.6 242.9 297.2 243.1"/>
<path stroke-width="1.1" d="M343.1 82.7C343.8 82.5 348.4 80.7 349.8 80.5C351.2 80.3 355.1 80.4 356.5 81.0C357.9 81.6 361.7 84.9 363.2 86.0C364.6 87.2 368.4 90.4 369.8 91.5C371.3 92.7 374.7 96.3 376.5 96.4C378.3 96.5 385.3 93.4 386.6 92.7C387.8 92.1 388.0 91.4 387.9 90.2C387.8 89.1 386.2 83.6 385.7 81.9C385.3 80.2 382.2 75.4 383.7 74.3C385.2 73.2 397.9 71.4 399.9 71.5C401.9 71.6 402.0 74.5 402.4 75.2C402.9 75.9 404.1 77.6 404.1 78.2C404.1 78.8 402.3 80.1 402.4 81.0C402.5 81.9 404.1 85.7 404.9 86.9C405.7 88.0 408.6 91.0 409.9 91.9C411.3 92.8 415.9 95.0 417.5 95.6C419.1 96.1 423.5 96.4 425.0 96.9C426.5 97.4 430.1 99.6 431.7 100.2C433.3 100.9 438.3 102.7 440.0 102.9C441.7 103.1 446.8 101.3 447.4 101.9C447.9 102.5 446.0 107.7 445.0 108.6C444.1 109.5 439.6 109.7 438.3 110.3C437.1 110.8 433.9 112.4 433.3 113.6C432.8 114.8 433.8 120.7 433.3 122.0C432.9 123.2 429.5 124.5 429.3 125.3C429.1 126.1 430.5 129.3 431.7 129.6C432.8 130.0 438.3 129.3 440.0 128.6C441.7 128.0 446.4 124.7 447.4 123.6C448.4 122.6 448.4 119.3 449.4 118.6C450.4 117.9 455.9 117.7 456.7 116.9C457.6 116.2 457.7 112.8 457.4 111.9C457.0 111.0 453.1 109.5 453.4 108.6C453.7 107.6 457.9 103.6 460.1 102.9C462.2 102.2 470.7 102.4 473.4 101.9C476.1 101.4 483.0 99.1 485.1 98.6C487.3 98.0 492.2 96.7 493.5 96.9C494.7 97.1 496.8 100.6 496.8 100.2C496.8 99.9 494.5 95.0 493.5 93.6C492.4 92.1 486.8 87.2 486.8 86.2C486.8 85.2 491.0 84.9 493.5 84.5C496.0 84.2 506.6 83.1 510.2 82.9C513.7 82.6 524.6 83.0 526.9 81.9C529.2 80.7 529.8 73.4 531.9 71.8C534.0 70.2 544.3 67.4 546.9 66.8C549.6 66.3 555.3 67.4 556.9 66.8C558.6 66.3 561.6 63.8 562.0 61.8C562.3 59.9 561.4 49.7 560.3 48.4C559.2 47.2 553.0 50.5 551.9 50.1C550.9 49.8 551.5 46.0 550.3 45.1C549.0 44.2 541.6 42.7 540.2 41.8C538.9 40.9 537.4 37.9 537.6 36.8C537.7 35.6 539.5 31.6 541.9 30.7C544.3 29.8 556.5 28.8 560.3 28.4C564.0 28.0 574.1 27.1 577.0 27.4C579.9 27.6 586.5 30.4 587.7 30.7"/>
<path stroke-width="1.1" d="M476.8 -1.7C477.3 -0.4 480.5 8.1 481.8 10.0C483.0 12.0 487.2 15.8 488.5 16.7C489.7 17.6 493.0 17.3 493.5 18.4C493.9 19.4 492.3 25.3 492.8 26.7C493.3 28.2 497.7 30.3 498.5 31.7C499.3 33.2 500.7 38.1 500.2 40.1C499.6 42.1 494.3 48.0 493.5 50.1C492.7 52.3 493.5 58.0 492.8 60.1C492.1 62.3 487.4 68.4 486.8 70.2C486.1 71.9 486.1 75.3 486.8 76.8C487.5 78.4 492.8 83.7 493.5 84.5"/>
<path stroke-width="1.1" d="M586.0 30.9C586.9 30.9 592.7 30.1 594.4 30.4C596.0 30.7 599.3 33.4 601.0 33.4C602.7 33.4 609.2 30.4 610.2 30.4C611.3 30.4 611.3 31.5 611.1 33.4C610.8 35.3 608.2 46.5 607.7 48.4C607.3 50.4 606.5 51.1 606.9 51.8C607.2 52.5 610.0 54.6 611.1 54.8C612.1 55.0 616.0 54.1 616.9 53.5C617.8 52.8 618.8 49.2 619.4 48.4C620.0 47.7 622.2 46.4 622.8 46.8C623.3 47.1 624.0 50.9 624.4 51.8C624.9 52.6 625.1 55.4 626.9 54.8C628.7 54.2 639.0 46.9 641.1 46.4C643.3 45.9 646.0 49.2 647.0 50.1C648.0 51.0 650.0 53.7 650.3 55.1C650.7 56.6 649.3 61.6 650.3 63.5C651.3 65.4 658.5 71.2 659.5 72.7C660.5 74.1 660.0 75.9 659.5 76.8C659.1 77.8 656.0 80.8 655.3 81.9C654.7 82.9 654.1 86.0 653.7 86.9C653.2 87.8 651.2 89.6 651.2 90.2C651.2 90.8 652.9 92.4 653.7 92.4C654.4 92.4 657.2 90.9 657.8 90.2C658.5 89.5 658.8 86.8 659.5 86.0C660.2 85.2 663.6 83.0 664.5 82.7C665.4 82.4 667.5 83.1 667.9 83.5C668.2 84.0 667.6 86.2 667.9 86.9C668.1 87.6 669.9 88.1 670.4 90.2C670.8 92.3 671.8 105.1 672.0 106.9C672.3 108.8 670.8 107.5 672.9 107.6C674.9 107.7 688.5 108.4 691.2 107.6C694.0 106.8 697.9 101.7 698.9 100.2C700.0 98.7 700.5 94.3 701.3 93.6C702.1 92.8 705.6 92.3 706.3 92.9C707.0 93.4 707.2 97.8 708.0 98.6C708.7 99.3 712.5 99.2 713.0 100.2C713.5 101.2 712.5 106.8 712.6 108.0C712.8 109.2 714.6 110.4 714.3 111.3C714.0 112.3 710.2 116.3 710.1 117.2C710.0 118.1 712.7 119.2 713.5 119.7C714.3 120.2 716.7 120.8 717.6 122.2C718.6 123.6 722.7 131.8 722.6 133.1C722.6 134.3 717.9 133.4 716.8 133.9C715.7 134.3 713.2 136.3 712.6 137.2C712.0 138.2 710.9 141.9 711.0 143.1C711.0 144.2 712.7 147.3 713.5 148.1C714.3 148.9 718.0 149.7 718.5 150.6C718.9 151.5 717.5 155.3 717.6 156.4C717.8 157.6 720.6 160.7 720.1 161.5C719.7 162.3 713.8 163.3 713.5 164.0C713.1 164.7 716.4 167.1 716.8 168.1C717.2 169.2 717.3 172.9 717.6 174.0C718.0 175.1 720.1 177.5 720.1 178.2C720.1 178.8 717.3 179.6 717.6 180.2C718.0 180.7 721.8 182.0 723.5 183.2C725.2 184.4 732.0 190.7 733.5 191.5C735.0 192.3 736.8 190.5 737.7 190.7C738.6 190.9 741.3 192.4 741.9 193.2C742.4 194.0 743.0 197.1 743.0 198.2C743.0 199.4 742.6 203.2 741.9 204.1C741.1 204.9 736.0 205.9 736.0 206.6C736.0 207.2 740.9 208.9 741.9 209.9C742.8 210.9 744.9 215.4 745.2 216.1C745.5 216.7 744.7 215.7 744.7 216.0C744.7 216.3 744.5 218.6 745.5 219.3C746.6 220.1 752.8 222.1 754.7 222.7C756.6 223.2 762.0 223.6 763.1 224.4C764.1 225.1 763.8 228.3 764.7 229.4C765.6 230.4 770.0 233.1 771.4 234.4C772.8 235.6 776.8 239.6 778.1 241.1C779.4 242.5 783.1 246.3 784.0 247.7C784.8 249.2 786.7 253.4 786.5 254.4C786.2 255.4 781.7 256.4 781.4 256.9C781.2 257.5 783.8 258.1 784.0 259.4C784.1 260.8 783.0 267.6 783.1 269.5C783.2 271.3 785.0 275.6 784.8 277.0C784.6 278.4 782.0 281.3 781.4 282.8C780.9 284.3 780.0 289.7 779.8 291.2C779.5 292.6 778.7 295.2 778.9 296.2C779.2 297.2 781.4 299.7 782.3 300.4C783.2 301.0 786.5 301.4 787.3 302.0C788.1 302.7 789.3 305.3 789.8 306.2C790.3 307.1 793.2 309.1 792.3 310.4C791.4 311.6 782.9 317.3 781.4 317.9C780.0 318.5 778.9 316.9 778.9 316.2C778.9 315.6 781.4 312.9 781.4 312.1C781.5 311.3 780.4 308.9 779.8 308.7C779.2 308.5 776.8 309.6 775.6 310.4C774.4 311.2 770.1 315.3 768.9 316.2C767.8 317.2 765.5 319.8 764.7 319.6C763.9 319.3 762.5 314.4 761.4 313.7C760.3 313.0 756.0 313.3 754.7 312.9C753.5 312.4 750.9 309.2 749.7 309.6C748.5 309.9 744.3 315.0 743.9 316.2C743.4 317.5 745.1 320.4 745.5 321.2C746.0 322.1 747.7 323.8 748.0 324.1C748.4 324.4 748.2 323.7 748.9 324.0C749.6 324.3 753.8 326.6 754.7 327.3C755.7 328.1 757.9 330.1 757.7 330.7C757.5 331.3 753.3 332.1 753.0 333.2C752.8 334.3 755.4 339.2 755.6 340.7C755.7 342.2 755.0 346.1 754.7 347.4C754.5 348.7 753.1 352.5 753.0 353.2C753.0 353.9 754.9 353.9 753.9 354.1C752.9 354.2 745.3 354.5 743.9 354.9C742.4 355.4 741.1 357.5 740.5 358.2C739.9 359.0 738.8 361.0 738.0 361.6C737.2 362.2 733.5 363.5 733.0 363.8C732.5 364.0 733.9 363.4 733.0 363.8C732.1 364.2 726.3 366.7 724.7 367.4C723.0 368.1 718.2 370.6 717.1 370.4C716.1 370.3 715.3 366.4 714.6 365.8C713.9 365.2 711.4 364.7 710.5 364.9C709.5 365.1 706.8 367.2 705.4 367.8C704.1 368.3 699.1 369.3 697.9 369.9C696.8 370.6 694.9 373.3 694.6 374.1C694.2 374.9 695.1 376.6 694.6 377.5C694.1 378.3 690.6 381.3 689.6 382.5C688.5 383.6 685.5 387.7 684.6 388.3C683.7 388.9 681.5 387.9 681.2 388.3C681.0 388.8 681.5 391.7 682.1 392.5C682.6 393.3 685.3 394.6 686.2 395.8C687.2 397.1 690.2 402.4 691.2 404.2C692.3 406.0 695.2 410.6 696.3 412.5C697.3 414.5 700.5 420.5 701.3 422.6C702.1 424.6 703.5 431.1 703.8 432.1C704.0 433.1 703.5 431.1 703.8 432.0C704.0 432.9 705.7 438.4 706.3 440.4C706.9 442.3 708.7 448.1 709.6 450.4C710.5 452.7 714.0 459.8 714.6 462.1C715.3 464.4 715.6 470.0 715.5 472.1C715.3 474.2 713.7 480.0 713.0 482.1C712.3 484.3 709.7 490.4 708.8 492.1C707.9 493.8 705.0 496.9 704.6 498.0C704.3 499.1 704.9 501.2 705.4 502.2C706.0 503.1 709.3 505.7 709.6 507.2C710.0 508.6 709.1 513.8 708.8 515.5C708.4 517.2 706.7 521.9 706.3 523.0C705.8 524.2 704.3 525.9 704.6 526.4C704.9 526.9 708.1 527.3 708.8 528.1C709.5 528.9 710.8 532.7 711.3 533.9C711.8 535.1 713.8 538.3 713.8 538.9C713.8 539.6 712.2 539.7 711.3 540.0C710.4 540.3 706.2 541.1 705.4 541.7C704.6 542.2 703.4 543.9 703.8 545.0C704.1 546.1 707.9 549.9 708.8 551.7C709.7 553.5 711.6 559.8 712.1 561.7C712.7 563.7 714.0 568.6 713.8 570.1C713.6 571.5 711.3 574.6 710.5 575.1C709.7 575.5 707.1 573.6 706.3 574.2C705.5 574.9 703.7 580.6 702.9 580.9C702.2 581.3 699.9 578.3 699.6 577.6C699.3 576.9 701.1 574.6 700.4 574.2C699.7 573.9 694.6 574.0 692.9 574.2C691.2 574.5 686.3 576.2 684.6 576.8C682.9 577.3 678.6 579.0 677.0 579.3C675.4 579.5 671.0 579.4 669.5 579.3C668.0 579.1 664.3 578.0 662.8 577.6C661.4 577.2 657.5 575.4 656.2 575.4C654.8 575.4 651.7 576.7 650.3 577.6C648.9 578.4 644.5 582.4 642.8 583.4C641.1 584.5 636.2 586.7 634.4 587.6C632.7 588.5 627.9 591.3 626.1 591.8C624.3 592.3 619.3 592.2 617.7 592.6C616.1 593.1 612.7 595.4 611.1 596.0C609.5 596.5 604.3 596.7 602.7 597.6C601.1 598.5 597.4 602.8 596.0 604.3C594.6 605.8 590.4 611.0 589.3 611.8C588.3 612.6 586.4 611.8 586.0 611.8"/>
<path stroke-width="1.1" d="M586.0 631.0C587.6 631.4 600.5 633.4 601.0 634.4C601.6 635.4 591.5 639.7 591.0 640.2C590.5 640.8 596.2 639.1 596.0 639.4C595.8 639.7 590.4 642.5 589.3 643.2C588.3 644.0 586.4 645.8 586.0 646.1"/>
<path stroke-width="1.1" d="M56.0 215.2C56.1 215.7 57.7 219.1 57.6 220.2C57.5 221.2 55.8 224.1 55.1 225.2C54.4 226.3 51.7 229.0 51.0 230.2C50.2 231.4 49.4 235.5 48.4 236.9C47.5 238.2 43.1 241.6 41.8 242.7C40.4 243.9 36.7 246.6 35.9 247.7C35.1 248.9 34.2 252.4 34.2 253.6C34.2 254.7 35.0 257.6 35.9 258.6C36.8 259.6 40.9 262.0 42.6 262.8C44.3 263.6 50.1 265.5 51.8 266.1C53.5 266.7 57.7 268.0 58.5 268.6C59.3 269.2 59.6 271.2 59.3 272.0C59.0 272.8 56.1 275.2 56.0 276.1C55.8 277.0 57.1 279.3 57.6 280.3C58.2 281.3 60.3 284.6 61.0 285.3C61.7 286.0 63.5 287.2 64.3 287.0C65.1 286.8 67.7 284.4 68.5 283.7C69.3 282.9 70.9 280.8 71.8 280.3C72.8 279.8 76.8 279.9 77.7 279.1C78.6 278.4 79.7 274.5 80.2 273.6C80.7 272.7 82.2 270.9 82.7 270.8C83.2 270.7 84.8 272.1 85.2 272.8C85.6 273.5 85.4 276.3 86.0 277.0C86.7 277.7 89.9 278.7 91.0 279.5C92.2 280.3 95.6 283.3 96.9 284.5C98.2 285.7 102.5 289.2 103.6 290.3C104.6 291.5 106.6 294.4 106.9 295.4C107.3 296.3 107.3 298.5 106.9 299.5C106.6 300.6 104.5 304.2 103.6 305.4C102.7 306.5 99.4 309.3 98.6 310.4C97.8 311.5 95.9 314.6 96.1 315.4C96.2 316.2 99.4 317.3 100.2 317.9C101.0 318.5 103.2 320.5 103.6 321.2C104.0 322.0 103.9 324.2 103.9 324.6"/>
<path stroke-width="1.1" d="M57.6 215.2C58.2 215.3 61.8 215.7 62.6 216.3C63.5 217.0 65.5 219.9 66.0 221.0C66.5 222.1 67.0 225.9 67.7 226.9C68.3 227.8 70.1 229.5 71.8 230.2C73.5 230.9 81.0 232.8 83.5 233.5C86.0 234.3 93.4 236.3 95.2 236.9C97.1 237.4 100.2 237.9 101.1 238.6C102.0 239.2 102.6 241.9 103.6 242.7C104.6 243.6 108.5 246.0 110.3 246.4C112.0 246.8 117.8 247.1 120.3 246.9C122.8 246.7 130.8 245.1 133.6 244.7C136.5 244.3 145.6 243.4 147.0 243.2C148.4 243.1 146.3 242.8 147.0 243.2C147.7 243.6 152.4 246.3 153.7 246.9C154.9 247.5 157.6 248.7 158.7 248.6C159.8 248.5 162.6 247.2 163.7 246.1C164.8 244.9 167.6 239.5 168.7 237.7C169.8 235.9 172.8 230.9 173.7 229.4C174.6 227.8 176.7 224.1 177.1 223.5"/>
<path stroke-width="1.1" d="M-0.8 327.3C0.3 327.7 7.4 330.5 10.0 330.7C12.6 330.9 20.9 328.7 23.4 329.0C25.9 329.4 31.1 332.4 33.4 334.0C35.7 335.6 42.5 341.8 45.1 344.0C47.7 346.3 55.0 353.0 57.6 354.9C60.3 356.8 69.2 360.4 70.2 361.6C71.1 362.7 67.4 363.7 66.8 365.8C66.3 367.8 65.5 377.9 65.2 380.8C64.8 383.7 63.9 390.4 63.5 392.5C63.0 394.5 60.9 398.8 61.0 400.0C61.1 401.3 63.0 403.6 64.3 404.2C65.7 404.8 71.8 405.3 73.5 405.5C75.2 405.8 79.0 406.1 80.2 406.7C81.3 407.3 84.9 409.2 84.4 410.9C83.8 412.6 76.8 420.3 75.2 422.6C73.6 424.8 70.0 431.1 69.3 432.1C68.7 433.1 70.1 431.0 69.3 432.0C68.5 433.0 63.2 439.3 61.8 441.2C60.4 443.1 56.7 448.1 56.0 449.5C55.3 451.0 54.9 453.5 55.1 454.6C55.4 455.6 58.0 458.5 58.1 459.6C58.3 460.6 57.7 463.2 56.8 464.6C55.9 465.9 51.5 470.0 50.1 472.1C48.7 474.1 44.9 481.6 43.4 483.8C42.0 485.9 38.1 490.5 36.8 492.1C35.4 493.7 31.9 497.4 30.9 498.8C29.9 500.2 28.0 504.1 27.6 505.5C27.1 506.9 27.2 510.8 26.7 512.2C26.3 513.6 24.1 517.6 23.4 518.9C22.7 520.1 20.1 522.8 20.0 523.9C20.0 525.0 22.4 527.9 22.6 528.9C22.7 529.9 22.3 532.3 21.7 533.1C21.1 533.9 17.9 535.9 16.7 536.4C15.5 536.9 12.3 538.1 10.9 538.1C9.4 538.1 4.6 536.7 3.3 536.4C2.1 536.1 -0.4 535.4 -0.8 535.2"/>
<path stroke-width="1.1" d="M0.0 535.6C0.3 535.8 2.4 537.5 2.5 538.1C2.6 538.6 1.5 540.3 1.3 540.6"/>
<path stroke-width="1.1" d="M103.6 323.2C103.2 324.1 100.9 330.6 100.2 332.4C99.5 334.1 98.3 338.4 96.9 339.9C95.5 341.3 88.5 344.4 86.9 345.7C85.3 347.1 84.9 351.4 81.9 352.4C78.8 353.4 61.9 354.5 58.5 354.9C55.1 355.4 51.9 355.9 50.1 356.6C48.3 357.3 43.5 360.3 41.8 361.6C40.0 362.8 35.2 366.8 33.4 368.3C31.6 369.7 26.9 373.4 25.1 375.0C23.2 376.5 17.5 382.1 15.9 382.5C14.3 382.8 11.2 378.3 10.0 378.3C8.9 378.3 6.2 381.6 5.0 382.5C3.9 383.4 -0.2 386.2 -0.8 386.6"/>
<path stroke-width="1.1" d="M84.4 411.7C85.3 411.9 91.9 413.0 93.6 413.4C95.2 413.7 99.1 414.1 100.2 415.0C101.4 416.0 103.0 421.3 104.4 422.6C105.8 423.8 111.5 425.8 113.6 426.7C115.7 427.7 123.3 431.2 124.5 431.8C125.6 432.3 123.7 431.6 124.5 432.0C125.3 432.4 130.4 434.6 132.0 435.3C133.6 436.1 138.4 438.0 139.5 438.7C140.6 439.4 141.9 441.1 142.0 442.0C142.1 442.9 140.3 446.1 140.3 447.0C140.3 447.9 141.3 449.9 142.0 450.4C142.7 450.8 146.5 451.1 147.0 451.2C147.5 451.3 146.6 450.9 147.0 451.2C147.4 451.5 150.5 453.0 151.2 453.7C151.9 454.4 152.3 457.3 153.7 457.9C155.0 458.5 162.6 459.4 163.7 459.6"/>
<path stroke-width="1.1" d="M10.9 539.2C11.0 539.7 11.5 543.2 12.5 544.2C13.5 545.2 17.8 547.3 20.0 548.4C22.3 549.4 30.9 553.1 33.4 554.2C35.9 555.3 41.7 557.3 43.4 558.4C45.1 559.4 48.4 562.8 49.3 564.2C50.1 565.6 51.4 570.0 51.5 571.7C51.5 573.4 50.7 578.6 50.1 580.1C49.5 581.6 46.6 584.9 45.9 585.9C45.3 587.0 43.9 589.2 43.8 590.1C43.7 591.0 44.2 593.7 45.1 594.3C46.0 594.9 50.4 595.3 51.8 596.0C53.2 596.6 57.0 599.0 58.5 600.1C60.0 601.3 64.7 605.4 66.0 606.8C67.3 608.2 70.4 612.2 71.0 613.5C71.6 614.8 71.8 618.4 71.8 619.4C71.8 620.3 71.1 622.3 71.0 622.7"/>
<path stroke-width="1.1" d="M-0.8 608.2C0.1 608.1 6.5 607.4 8.4 607.3C10.2 607.3 15.3 607.2 16.7 607.7C18.1 608.1 21.2 610.5 21.7 611.8C22.2 613.2 21.1 618.1 21.4 620.2C21.7 622.2 23.7 629.1 24.2 631.0C24.7 633.0 25.7 637.8 25.9 638.6"/>
<path stroke-width="1.1" d="M113.6 639.4C114.3 639.7 118.9 641.2 120.3 641.9C121.7 642.6 126.3 645.6 127.0 646.1"/>
<path stroke-width="1.1" d="M122.8 638.6C123.8 637.8 130.5 635.2 132.0 635.2C133.5 635.2 136.5 637.9 137.0 638.6C137.4 639.3 137.7 641.5 136.2 641.9C134.6 642.3 124.2 643.1 122.8 642.7C121.4 642.4 121.8 639.4 122.8 638.6"/>
<path stroke-width="1.1" d="M152.0 606.0C152.7 606.3 157.3 607.9 158.7 608.5C160.1 609.1 164.0 611.7 165.4 611.8C166.8 611.9 170.7 609.2 172.1 609.3C173.4 609.4 177.2 612.8 177.9 612.7C178.6 612.6 178.7 608.9 178.7 608.5"/>
<path stroke-width="1.1" d="M198.8 608.5C199.5 608.8 204.5 610.9 205.5 611.8C206.4 612.8 207.2 617.3 208.0 617.7C208.8 618.0 212.0 616.1 213.0 615.2C214.0 614.3 216.3 610.0 217.2 609.3C218.1 608.6 220.3 608.0 221.3 608.5C222.4 609.0 225.9 612.8 227.2 614.3C228.5 615.9 232.4 621.5 233.9 622.7C235.3 623.9 239.5 624.3 240.6 625.2C241.6 626.1 242.8 630.2 243.9 631.0C245.0 631.8 249.7 631.9 250.6 632.7C251.5 633.5 251.7 637.3 252.2 638.6C252.8 639.8 254.5 643.5 255.6 644.4C256.7 645.3 261.2 646.7 262.3 646.9C263.3 647.1 264.8 646.6 265.6 646.1C266.4 645.5 269.3 641.6 269.8 641.9C270.3 642.2 270.2 647.9 270.3 648.6"/>
<path stroke-width="1.1" d="M146.2 620.2C147.0 620.4 152.8 620.8 153.7 621.9C154.6 622.9 155.3 629.1 154.5 630.2C153.7 631.4 147.1 632.4 146.2 632.7"/>
<path stroke-width="1.1" d="M153.7 646.9C154.6 646.6 161.0 644.5 162.0 643.6C163.1 642.7 162.6 639.3 163.7 638.6C164.8 637.9 170.9 637.8 172.1 636.9C173.2 636.0 174.7 631.3 174.6 630.2C174.4 629.1 170.5 627.5 170.4 626.9C170.3 626.2 172.6 624.8 173.7 624.4C174.9 623.9 179.8 622.6 181.2 622.7C182.7 622.8 185.9 624.6 187.1 625.2C188.3 625.8 192.0 627.5 192.1 628.5C192.2 629.6 188.6 633.8 187.9 635.2C187.3 636.6 186.8 640.9 186.3 641.9C185.7 642.9 184.0 643.9 182.9 644.4C181.8 644.9 176.9 646.6 176.2 646.9"/>
<path stroke-width="1.1" d="M240.6 625.2C240.9 626.1 243.4 632.1 243.9 633.6C244.3 635.0 245.1 637.5 244.7 638.6C244.4 639.6 242.2 642.7 240.6 643.6C238.9 644.5 230.1 646.6 228.9 646.9"/>
<path stroke-width="1.1" d="M344.8 600.5C344.3 601.1 340.8 604.8 339.8 606.0C338.7 607.2 335.7 610.7 334.8 611.8C333.9 613.0 331.9 615.6 331.4 616.8C331.0 618.1 330.4 622.1 330.6 623.5C330.8 625.0 332.5 628.8 333.1 630.2C333.7 631.6 335.7 635.5 336.4 636.9C337.1 638.3 339.2 642.4 339.8 643.6C340.3 644.7 341.3 647.3 341.4 647.8"/>
<path stroke-width="1.1" d="M384.0 579.3C384.5 578.8 387.2 576.1 388.2 575.1C389.2 574.1 391.8 570.6 393.2 570.1C394.7 569.5 400.7 569.0 401.6 569.7C402.4 570.4 401.0 575.6 401.3 576.8C401.5 577.9 402.8 580.3 404.1 580.9C405.4 581.6 411.4 583.1 413.3 583.1C415.2 583.1 420.2 581.5 421.6 580.9C423.1 580.3 426.0 578.3 426.6 577.6C427.3 576.9 426.8 574.7 427.5 574.2C428.2 573.8 432.2 573.4 433.3 573.4C434.5 573.4 437.5 574.0 438.3 574.2C439.1 574.5 440.6 575.7 440.8 575.9"/>
<path stroke-width="1.1" d="M426.6 577.6C427.2 578.1 431.3 581.4 431.7 582.6C432.0 583.8 430.6 587.4 430.0 588.4C429.4 589.5 426.9 592.4 425.8 592.6C424.7 592.8 421.1 590.3 420.0 590.1C418.8 589.9 415.5 590.5 415.0 591.0C414.4 591.4 414.1 593.6 415.0 594.3C415.8 595.0 421.5 596.9 423.3 597.6C425.1 598.3 430.4 600.3 431.7 601.0C432.9 601.7 434.6 603.5 435.0 604.3C435.4 605.1 434.4 607.8 435.0 608.5C435.6 609.2 440.2 610.3 440.8 610.5"/>
<path stroke-width="1.1" d="M368.2 600.1C368.3 599.2 373.7 597.1 374.9 596.8C376.0 596.5 378.9 596.9 379.0 597.6C379.2 598.3 377.1 602.7 376.5 603.5C376.0 604.3 374.9 605.5 374.0 605.2C373.1 604.8 368.1 601.0 368.2 600.1"/>
<path stroke-width="1.1" d="M439.2 611.0C439.8 611.2 444.2 611.9 445.0 612.7C445.8 613.5 446.9 617.2 446.7 618.5C446.5 619.9 443.4 623.8 443.3 625.2C443.3 626.6 445.1 630.6 445.8 631.9C446.6 633.1 449.5 635.8 450.0 636.9C450.6 638.0 451.2 640.7 450.9 641.9C450.5 643.2 447.1 647.9 446.7 648.6"/>
<path stroke-width="1.1" d="M461.7 647.8C462.3 646.8 465.2 639.8 466.7 638.6C468.2 637.3 474.8 636.8 475.9 636.1C477.0 635.3 477.3 632.9 476.8 631.9C476.2 630.9 471.4 627.8 470.9 626.9C470.4 625.9 470.4 623.3 471.7 622.7C473.1 622.1 481.5 621.5 483.4 621.5C485.4 621.6 488.4 623.2 490.1 623.2C491.8 623.2 498.0 622.4 499.3 621.9C500.6 621.4 501.8 618.5 502.6 618.5C503.4 618.5 505.5 621.1 506.8 621.9C508.2 622.6 513.2 624.7 515.2 625.2C517.1 625.7 523.3 626.6 525.2 626.5C527.1 626.4 531.6 625.2 532.7 624.4C533.9 623.5 536.1 619.5 536.1 618.5C536.1 617.5 533.6 615.4 532.7 615.2C531.8 614.9 527.6 616.3 527.7 616.0C527.8 615.7 532.0 613.2 533.6 612.7C535.1 612.2 540.7 611.2 541.9 611.5C543.1 611.8 544.1 614.2 544.4 615.2C544.8 616.1 544.4 619.1 545.2 620.2C546.0 621.3 550.7 625.0 551.9 625.2C553.2 625.4 555.6 622.7 556.9 621.9C558.3 621.0 563.4 616.9 564.5 616.8C565.5 616.8 565.6 620.8 567.0 621.0C568.3 621.2 574.7 619.1 577.0 618.5C579.3 618.0 587.4 616.3 588.7 616.0"/>
<path stroke-width="1.1" d="M518.5 647.8C520.1 647.5 530.3 645.6 533.6 645.2C536.8 644.9 546.1 644.9 548.6 644.4C551.1 644.0 555.5 641.9 556.9 641.1C558.4 640.3 560.2 637.7 562.0 636.9C563.7 636.1 571.5 634.4 573.6 633.6C575.8 632.7 580.4 629.8 582.0 629.4C583.6 628.9 588.0 629.4 588.7 629.4"/>
<path stroke-width="1.1" d="M575.3 647.8C575.9 646.9 579.4 641.2 580.3 640.2C581.2 639.3 583.0 638.5 583.7 638.6C584.3 638.7 586.2 640.4 586.2 641.1C586.2 641.7 583.6 643.7 583.7 644.4C583.8 645.1 586.7 647.4 587.0 647.8"/>
</g>
</g>
<g shape-rendering="geometricPrecision">
<circle cx="354.75" cy="109.10" r="3.65" fill="#000" stroke="#fff" stroke-width="1.8"/>
<text class="city" x="364.80" y="111.20">Mannheim</text>
<circle cx="496.50" cy="142.25" r="3.65" fill="#000" stroke="#fff" stroke-width="1.8"/>
<text class="city" x="507.00" y="145.35">Mosbach</text>
<circle cx="511.50" cy="197.25" r="3.65" fill="#000" stroke="#fff" stroke-width="1.8"/>
<text class="city" x="522.00" y="199.35">Heilbronn</text>
<circle cx="334.75" cy="233.40" r="3.65" fill="#000" stroke="#fff" stroke-width="1.8"/>
<text class="city" x="345.15" y="235.60">Karlsruhe</text>
<circle cx="507.50" cy="292.10" r="3.65" fill="#000" stroke="#fff" stroke-width="1.8"/>
<text class="city" x="517.90" y="295.35">Stuttgart</text>
<circle cx="483.50" cy="357.25" r="3.65" fill="#000" stroke="#fff" stroke-width="1.8"/>
<text class="city" x="494.90" y="360.00">Tübingen</text>
<circle cx="377.50" cy="416.25" r="3.65" fill="#000" stroke="#fff" stroke-width="1.8"/>
<text class="city" x="388.20" y="419.35">Oberndorf</text>
<circle cx="240.60" cy="370.25" r="3.65" fill="#000" stroke="#fff" stroke-width="1.8"/>
<text class="city" x="250.70" y="372.50">Offenburg</text>
<circle cx="703.40" cy="277.25" r="3.65" fill="#000" stroke="#fff" stroke-width="1.8"/>
<text class="city" x="714.55" y="279.35">Aalen</text>
<circle cx="681.60" cy="388.40" r="3.65" fill="#000" stroke="#fff" stroke-width="1.8"/>
<text class="city" x="692.20" y="390.85">Ulm</text>
<circle cx="218.40" cy="494.25" r="3.65" fill="#000" stroke="#fff" stroke-width="1.8"/>
<text class="city" x="228.90" y="496.70">Freiburg</text>
<circle cx="354.30" cy="476.10" r="3.65" fill="#000" stroke="#fff" stroke-width="1.8"/>
<text class="city" x="365.15" y="478.80">Villingen-Schwenningen</text>
<circle cx="599.60" cy="546.25" r="3.65" fill="#000" stroke="#fff" stroke-width="1.8"/>
<text class="city" x="610.50" y="548.10">Ravensburg</text>
<text class="num" x="297.3" y="127.6">5</text>
<text class="num" x="518.5" y="51.5">4</text>
<text class="num" x="703.3" y="216.4">2</text>
<text class="num" x="518.6" y="288.0">4</text>
<text class="num" x="142.4" y="381.6">6</text>
<text class="num" x="819.3" y="413.4">7</text>
<text class="num" x="268.2" y="651.4">4</text>
</g>
<path d="M0.5 648V0.5H880M0 647.5H880" fill="none" stroke="#000" stroke-width="1"/>
<path d="M879.5 1V647" fill="none" stroke="#000" stroke-opacity="0.12" stroke-width="1"/>
</svg>
<div class="t" id="title">Temperatur in 2m (in °C)</div>
<div class="t" id="sub">Modell: ICON-D2 15z, Deutscher Wetterdienst</div>
<div class="t dt" style="left:579.80px;transform:scaleX(0.975)">Sa,</div>
<div class="t dt" style="left:619.30px;transform:scaleX(1.024)">28.03.2026</div>
<div class="t dt" style="left:752.30px;transform:scaleX(1.000)">17:00</div>
<div class="t dt" style="left:819.00px;transform:scaleX(0.950)">Uhr</div>
<div class="t" id="url">www.wetterblick.com</div>
<svg id="leg" width="880" height="90" viewBox="0 740 880 90">
<rect x="125.0" y="757.5" width="21.5" height="32" fill="#30007c" shape-rendering="crispEdges"/>
<rect x="146.0" y="757.5" width="21.5" height="32" fill="#003c80" shape-rendering="crispEdges"/>
<rect x="167.0" y="757.5" width="21.5" height="32" fill="#004880" shape-rendering="crispEdges"/>
<rect x="188.0" y="757.5" width="21.5" height="32" fill="#0060b0" shape-rendering="crispEdges"/>
<rect x="209.0" y="757.5" width="21.5" height="32" fill="#0080f0" shape-rendering="crispEdges"/>
<rect x="230.0" y="757.5" width="21.5" height="32" fill="#2898ff" shape-rendering="crispEdges"/>
<rect x="251.0" y="757.5" width="21.5" height="32" fill="#70bcff" shape-rendering="crispEdges"/>
<rect x="272.0" y="757.5" width="21.5" height="32" fill="#80c4ff" shape-rendering="crispEdges"/>
<rect x="293.0" y="757.5" width="21.5" height="32" fill="#a8d4ff" shape-rendering="crispEdges"/>
<rect x="314.0" y="757.5" width="21.5" height="32" fill="#c8e4ff" shape-rendering="crispEdges"/>
<rect x="335.0" y="757.5" width="21.5" height="32" fill="#d8ecff" shape-rendering="crispEdges"/>
<rect x="356.0" y="757.5" width="21.5" height="32" fill="#96dfc0" shape-rendering="crispEdges"/>
<rect x="377.0" y="757.5" width="21.5" height="32" fill="#64b08c" shape-rendering="crispEdges"/>
<rect x="398.0" y="757.5" width="21.5" height="32" fill="#08a030" shape-rendering="crispEdges"/>
<rect x="419.0" y="757.5" width="21.5" height="32" fill="#20b810" shape-rendering="crispEdges"/>
<rect x="440.0" y="757.5" width="21.5" height="32" fill="#98e008" shape-rendering="crispEdges"/>
<rect x="461.0" y="757.5" width="21.5" height="32" fill="#c8f008" shape-rendering="crispEdges"/>
<rect x="482.0" y="757.5" width="21.5" height="32" fill="#f0f808" shape-rendering="crispEdges"/>
<rect x="503.0" y="757.5" width="21.5" height="32" fill="#f4d810" shape-rendering="crispEdges"/>
<rect x="524.0" y="757.5" width="21.5" height="32" fill="#f4b810" shape-rendering="crispEdges"/>
<rect x="545.0" y="757.5" width="21.5" height="32" fill="#f48c10" shape-rendering="crispEdges"/>
<rect x="566.0" y="757.5" width="21.5" height="32" fill="#f47410" shape-rendering="crispEdges"/>
<rect x="587.0" y="757.5" width="21.5" height="32" fill="#e83c10" shape-rendering="crispEdges"/>
<rect x="608.0" y="757.5" width="21.5" height="32" fill="#c01818" shape-rendering="crispEdges"/>
<rect x="629.0" y="757.5" width="21.5" height="32" fill="#b01018" shape-rendering="crispEdges"/>
<rect x="650.0" y="757.5" width="21.5" height="32" fill="#780000" shape-rendering="crispEdges"/>
<rect x="671.0" y="757.5" width="21.5" height="32" fill="#883030" shape-rendering="crispEdges"/>
<rect x="692.0" y="757.5" width="21.5" height="32" fill="#c87878" shape-rendering="crispEdges"/>
<rect x="713.0" y="757.5" width="21.5" height="32" fill="#ffb0b0" shape-rendering="crispEdges"/>
<rect x="734.0" y="757.5" width="21.0" height="32" fill="#ffd8d8" shape-rendering="crispEdges"/>
<rect x="125.5" y="757.5" width="630" height="32" fill="none" stroke="#000" stroke-width="1" shape-rendering="crispEdges"/>
<line x1="125.5" y1="789.5" x2="125.5" y2="793" stroke="#000" stroke-width="1" shape-rendering="crispEdges"/>
<text class="lt" x="125.5" y="809.4">-20</text>
<line x1="167.5" y1="789.5" x2="167.5" y2="793" stroke="#000" stroke-width="1" shape-rendering="crispEdges"/>
<text class="lt" x="167.5" y="809.4">-16</text>
<line x1="209.5" y1="789.5" x2="209.5" y2="793" stroke="#000" stroke-width="1" shape-rendering="crispEdges"/>
<text class="lt" x="209.5" y="809.4">-12</text>
<line x1="251.5" y1="789.5" x2="251.5" y2="793" stroke="#000" stroke-width="1" shape-rendering="crispEdges"/>
<text class="lt" x="251.5" y="809.4">-8</text>
<line x1="293.5" y1="789.5" x2="293.5" y2="793" stroke="#000" stroke-width="1" shape-rendering="crispEdges"/>
<text class="lt" x="293.5" y="809.4">-4</text>
<line x1="335.5" y1="789.5" x2="335.5" y2="793" stroke="#000" stroke-width="1" shape-rendering="crispEdges"/>
<text class="lt" x="335.5" y="809.4">0</text>
<line x1="377.5" y1="789.5" x2="377.5" y2="793" stroke="#000" stroke-width="1" shape-rendering="crispEdges"/>
<text class="lt" x="377.5" y="809.4">4</text>
<line x1="419.5" y1="789.5" x2="419.5" y2="793" stroke="#000" stroke-width="1" shape-rendering="crispEdges"/>
<text class="lt" x="419.5" y="809.4">8</text>
<line x1="461.5" y1="789.5" x2="461.5" y2="793" stroke="#000" stroke-width="1" shape-rendering="crispEdges"/>
<text class="lt" x="461.5" y="809.4">12</text>
<line x1="503.5" y1="789.5" x2="503.5" y2="793" stroke="#000" stroke-width="1" shape-rendering="crispEdges"/>
<text class="lt" x="503.5" y="809.4">16</text>
<line x1="545.5" y1="789.5" x2="545.5" y2="793" stroke="#000" stroke-width="1" shape-rendering="crispEdges"/>
<text class="lt" x="545.5" y="809.4">20</text>
<line x1="587.5" y1="789.5" x2="587.5" y2="793" stroke="#000" stroke-width="1" shape-rendering="crispEdges"/>
<text class="lt" x="587.5" y="809.4">24</text>
<line x1="629.5" y1="789.5" x2="629.5" y2="793" stroke="#000" stroke-width="1" shape-rendering="crispEdges"/>
<text class="lt" x="629.5" y="809.4">28</text>
<line x1="671.5" y1="789.5" x2="671.5" y2="793" stroke="#000" stroke-width="1" shape-rendering="crispEdges"/>
<text class="lt" x="671.5" y="809.4">32</text>
<line x1="713.5" y1="789.5" x2="713.5" y2="793" stroke="#000" stroke-width="1" shape-rendering="crispEdges"/>
<text class="lt" x="713.5" y="809.4">36</text>
<line x1="755.5" y1="789.5" x2="755.5" y2="793" stroke="#000" stroke-width="1" shape-rendering="crispEdges"/>
<text class="lt" x="755.5" y="809.4">40</text>
</svg>
</body></html>
